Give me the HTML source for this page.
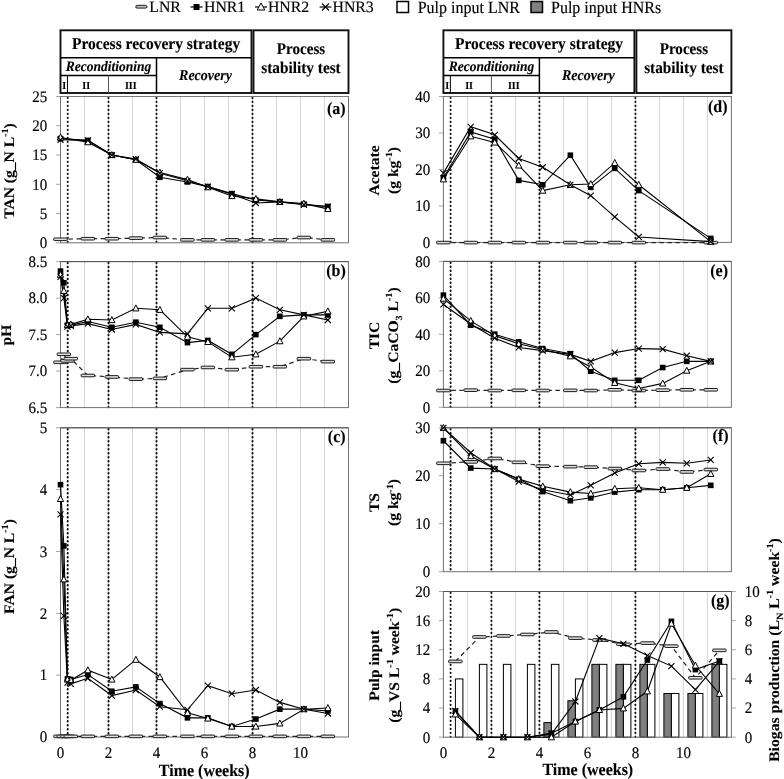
<!DOCTYPE html>
<html><head><meta charset="utf-8"><style>
html,body{margin:0;padding:0;background:#fff;width:784px;height:779px;overflow:hidden;}
svg{display:block;will-change:transform;text-rendering:geometricPrecision;}
</style></head><body>
<svg width="784" height="779" viewBox="0 0 784 779" font-family='"Liberation Serif", serif' fill="#000">
<style>text{stroke:#000;stroke-width:0.15px;}text[font-weight=bold]{stroke-width:0.12px;}</style>
<rect width="784" height="779" fill="#fff"/>
<g font-size="15.8">
<line x1="135.5" y1="7" x2="147.5" y2="7" stroke="#333" stroke-width="1.2"/>
<rect x="136" y="5.3" width="10.6" height="2.8" rx="1" fill="#bbb" stroke="#222" stroke-width="1"/>
<text x="149.3" y="12.2">LNR</text>
<line x1="190.5" y1="7" x2="202.5" y2="7" stroke="#000" stroke-width="1.2"/>
<rect x="193.5" y="4" width="6" height="6" fill="#000"/>
<text x="204" y="12.2">HNR1</text>
<line x1="255" y1="7" x2="267" y2="7" stroke="#000" stroke-width="1.2"/>
<path d="M261,3 L264.8,10 L257.2,10 Z" fill="#fff" stroke="#000" stroke-width="1"/>
<text x="267.9" y="12.2">HNR2</text>
<line x1="319.6" y1="7" x2="331.3" y2="7" stroke="#000" stroke-width="1.2"/>
<path d="M322,3.5 L329,10.5 M329,3.5 L322,10.5" stroke="#000" stroke-width="1.1"/>
<text x="332.5" y="12.2">HNR3</text>
</g>
<g font-size="16">
<rect x="397" y="1.5" width="11.5" height="11" fill="#fff" stroke="#000" stroke-width="1.5"/>
<text x="417.7" y="12.5" transform="translate(0 12.5) scale(1 1.07) translate(0 -12.5)">Pulp input LNR</text>
<rect x="531" y="1.5" width="11.5" height="11" fill="#808080" stroke="#000" stroke-width="1.5"/>
<text x="551" y="12.5" transform="translate(0 12.5) scale(1 1.07) translate(0 -12.5)">Pulp input HNRs</text>
</g>
<g fill="none" stroke="#000">
<rect x="60.5" y="30.3" width="191" height="62.7" stroke-width="1.9" stroke="#111"/>
<rect x="253.5" y="30.3" width="95" height="62.7" stroke-width="1.9" stroke="#111"/>
<line x1="60.5" y1="57.8" x2="251.5" y2="57.8" stroke-width="1.5"/>
<line x1="60.5" y1="75.5" x2="156.5" y2="75.5" stroke-width="1.3"/>
<line x1="156.5" y1="57.8" x2="156.5" y2="93" stroke-width="1.5"/>
<line x1="67.46" y1="75.5" x2="67.46" y2="93" stroke-width="1"/>
<line x1="108.5" y1="75.5" x2="108.5" y2="93" stroke-width="1" stroke="#555"/>
</g>
<text x="156.1" y="48.6" font-size="15.5" font-weight="bold" text-anchor="middle" transform="translate(0 48.6) scale(1 1.07) translate(0 -48.6)">Process recovery strategy</text>
<text x="108.5" y="70.7" font-size="13.5" font-weight="bold" font-style="italic" text-anchor="middle" transform="translate(0 70.7) scale(1 1.07) translate(0 -70.7)">Reconditioning</text>
<text x="205.5" y="79.8" font-size="14" font-weight="bold" font-style="italic" text-anchor="middle" transform="translate(0 79.8) scale(1 1.07) translate(0 -79.8)">Recovery</text>
<text x="64.28" y="89" font-size="10" font-weight="bold" text-anchor="middle" transform="translate(0 89) scale(1 1.07) translate(0 -89)">I</text>
<text x="86.18" y="89" font-size="10" font-weight="bold" text-anchor="middle" transform="translate(0 89) scale(1 1.07) translate(0 -89)">II</text>
<text x="130.82" y="89" font-size="10" font-weight="bold" text-anchor="middle" transform="translate(0 89) scale(1 1.07) translate(0 -89)">III</text>
<text x="301" y="54.3" font-size="15.1" font-weight="bold" text-anchor="middle" transform="translate(0 54.3) scale(1 1.07) translate(0 -54.3)">Process</text>
<text x="301" y="72.5" font-size="15.3" font-weight="bold" text-anchor="middle" transform="translate(0 72.5) scale(1 1.07) translate(0 -72.5)">stability test</text>
<g fill="none" stroke="#000">
<rect x="443.4" y="30.3" width="191" height="62.7" stroke-width="1.9" stroke="#111"/>
<rect x="636.4" y="30.3" width="95" height="62.7" stroke-width="1.9" stroke="#111"/>
<line x1="443.4" y1="57.8" x2="634.4" y2="57.8" stroke-width="1.5"/>
<line x1="443.4" y1="75.5" x2="539.4" y2="75.5" stroke-width="1.3"/>
<line x1="539.4" y1="57.8" x2="539.4" y2="93" stroke-width="1.5"/>
<line x1="450.36" y1="75.5" x2="450.36" y2="93" stroke-width="1"/>
<line x1="491.4" y1="75.5" x2="491.4" y2="93" stroke-width="1" stroke="#555"/>
</g>
<text x="539" y="48.6" font-size="15.5" font-weight="bold" text-anchor="middle" transform="translate(0 48.6) scale(1 1.07) translate(0 -48.6)">Process recovery strategy</text>
<text x="491.4" y="70.7" font-size="13.5" font-weight="bold" font-style="italic" text-anchor="middle" transform="translate(0 70.7) scale(1 1.07) translate(0 -70.7)">Reconditioning</text>
<text x="588.4" y="79.8" font-size="14" font-weight="bold" font-style="italic" text-anchor="middle" transform="translate(0 79.8) scale(1 1.07) translate(0 -79.8)">Recovery</text>
<text x="447.18" y="89" font-size="10" font-weight="bold" text-anchor="middle" transform="translate(0 89) scale(1 1.07) translate(0 -89)">I</text>
<text x="469.08" y="89" font-size="10" font-weight="bold" text-anchor="middle" transform="translate(0 89) scale(1 1.07) translate(0 -89)">II</text>
<text x="513.72" y="89" font-size="10" font-weight="bold" text-anchor="middle" transform="translate(0 89) scale(1 1.07) translate(0 -89)">III</text>
<text x="683.9" y="54.3" font-size="15.1" font-weight="bold" text-anchor="middle" transform="translate(0 54.3) scale(1 1.07) translate(0 -54.3)">Process</text>
<text x="683.9" y="72.5" font-size="15.3" font-weight="bold" text-anchor="middle" transform="translate(0 72.5) scale(1 1.07) translate(0 -72.5)">stability test</text>
<line x1="84.5" y1="96.5" x2="84.5" y2="242.8" stroke="#d4d4d4" stroke-width="1"/>
<line x1="108.5" y1="96.5" x2="108.5" y2="242.8" stroke="#d4d4d4" stroke-width="1"/>
<line x1="132.5" y1="96.5" x2="132.5" y2="242.8" stroke="#d4d4d4" stroke-width="1"/>
<line x1="156.5" y1="96.5" x2="156.5" y2="242.8" stroke="#d4d4d4" stroke-width="1"/>
<line x1="180.5" y1="96.5" x2="180.5" y2="242.8" stroke="#d4d4d4" stroke-width="1"/>
<line x1="204.5" y1="96.5" x2="204.5" y2="242.8" stroke="#d4d4d4" stroke-width="1"/>
<line x1="228.5" y1="96.5" x2="228.5" y2="242.8" stroke="#d4d4d4" stroke-width="1"/>
<line x1="252.5" y1="96.5" x2="252.5" y2="242.8" stroke="#d4d4d4" stroke-width="1"/>
<line x1="276.5" y1="96.5" x2="276.5" y2="242.8" stroke="#d4d4d4" stroke-width="1"/>
<line x1="300.5" y1="96.5" x2="300.5" y2="242.8" stroke="#d4d4d4" stroke-width="1"/>
<line x1="324.5" y1="96.5" x2="324.5" y2="242.8" stroke="#d4d4d4" stroke-width="1"/>
<line x1="56" y1="242.8" x2="60.5" y2="242.8" stroke="#a6a6a6" stroke-width="1"/>
<text x="47.3" y="248.1" font-size="15" text-anchor="end" transform="translate(0 248.1) scale(1 1.07) translate(0 -248.1)">0</text>
<line x1="56" y1="213.54" x2="60.5" y2="213.54" stroke="#a6a6a6" stroke-width="1"/>
<text x="47.3" y="218.84" font-size="15" text-anchor="end" transform="translate(0 218.84) scale(1 1.07) translate(0 -218.84)">5</text>
<line x1="56" y1="184.28" x2="60.5" y2="184.28" stroke="#a6a6a6" stroke-width="1"/>
<text x="47.3" y="189.58" font-size="15" text-anchor="end" transform="translate(0 189.58) scale(1 1.07) translate(0 -189.58)">10</text>
<line x1="56" y1="155.02" x2="60.5" y2="155.02" stroke="#a6a6a6" stroke-width="1"/>
<text x="47.3" y="160.32" font-size="15" text-anchor="end" transform="translate(0 160.32) scale(1 1.07) translate(0 -160.32)">15</text>
<line x1="56" y1="125.76" x2="60.5" y2="125.76" stroke="#a6a6a6" stroke-width="1"/>
<text x="47.3" y="131.06" font-size="15" text-anchor="end" transform="translate(0 131.06) scale(1 1.07) translate(0 -131.06)">20</text>
<line x1="56" y1="96.5" x2="60.5" y2="96.5" stroke="#a6a6a6" stroke-width="1"/>
<text x="47.3" y="101.8" font-size="15" text-anchor="end" transform="translate(0 101.8) scale(1 1.07) translate(0 -101.8)">25</text>
<line x1="67.7" y1="97.7" x2="67.7" y2="242.8" stroke="#111" stroke-width="2" stroke-linecap="round" stroke-dasharray="0.4 3.6"/>
<line x1="108.5" y1="97.7" x2="108.5" y2="242.8" stroke="#111" stroke-width="2" stroke-linecap="round" stroke-dasharray="0.4 3.6"/>
<line x1="156.5" y1="97.7" x2="156.5" y2="242.8" stroke="#111" stroke-width="2" stroke-linecap="round" stroke-dasharray="0.4 3.6"/>
<line x1="252.5" y1="97.7" x2="252.5" y2="242.8" stroke="#111" stroke-width="2" stroke-linecap="round" stroke-dasharray="0.4 3.6"/>
<rect x="60.5" y="96.5" width="288" height="146.3" fill="none" stroke="#707070" stroke-width="1"/>
<line x1="60.5" y1="96.5" x2="348.5" y2="96.5" stroke="#7a7a7a" stroke-width="1"/>
<polyline points="60.5,239.29 87.86,238.7 111.86,238.7 135.86,238.12 159.86,237.53 187.46,239.87 207.86,239.87 231.86,239.87 255.86,239.87 279.86,239.87 303.86,237.53 327.86,239.87" fill="none" stroke="#222" stroke-width="1.2" stroke-dasharray="4.5 3.5"/>
<rect x="53.8" y="237.99" width="13.4" height="2.6" rx="0.6" fill="#dedede" stroke="#1a1a1a" stroke-width="1"/>
<rect x="81.16" y="237.4" width="13.4" height="2.6" rx="0.6" fill="#dedede" stroke="#1a1a1a" stroke-width="1"/>
<rect x="105.16" y="237.4" width="13.4" height="2.6" rx="0.6" fill="#dedede" stroke="#1a1a1a" stroke-width="1"/>
<rect x="129.16" y="236.82" width="13.4" height="2.6" rx="0.6" fill="#dedede" stroke="#1a1a1a" stroke-width="1"/>
<rect x="153.16" y="236.23" width="13.4" height="2.6" rx="0.6" fill="#dedede" stroke="#1a1a1a" stroke-width="1"/>
<rect x="180.76" y="238.57" width="13.4" height="2.6" rx="0.6" fill="#dedede" stroke="#1a1a1a" stroke-width="1"/>
<rect x="201.16" y="238.57" width="13.4" height="2.6" rx="0.6" fill="#dedede" stroke="#1a1a1a" stroke-width="1"/>
<rect x="225.16" y="238.57" width="13.4" height="2.6" rx="0.6" fill="#dedede" stroke="#1a1a1a" stroke-width="1"/>
<rect x="249.16" y="238.57" width="13.4" height="2.6" rx="0.6" fill="#dedede" stroke="#1a1a1a" stroke-width="1"/>
<rect x="273.16" y="238.57" width="13.4" height="2.6" rx="0.6" fill="#dedede" stroke="#1a1a1a" stroke-width="1"/>
<rect x="297.16" y="236.23" width="13.4" height="2.6" rx="0.6" fill="#dedede" stroke="#1a1a1a" stroke-width="1"/>
<rect x="321.16" y="238.57" width="13.4" height="2.6" rx="0.6" fill="#dedede" stroke="#1a1a1a" stroke-width="1"/>
<polyline points="60.5,138.63 87.86,140.39 111.86,155.02 135.86,159.7 159.86,177.26 187.46,181.94 207.86,186.62 231.86,193.64 255.86,200.08 279.86,201.84 303.86,204.18 327.86,206.52" fill="none" stroke="#000" stroke-width="1.1"/>
<polyline points="60.5,137.46 87.86,142.15 111.86,155.02 135.86,159.7 159.86,172.58 187.46,179.6 207.86,187.21 231.86,195.98 255.86,198.91 279.86,201.84 303.86,203.59 327.86,208.86" fill="none" stroke="#000" stroke-width="1.1"/>
<polyline points="60.5,139.8 87.86,140.39 111.86,155.02 135.86,159.12 159.86,173.16 187.46,180.77 207.86,186.62 231.86,194.23 255.86,203.01 279.86,201.84 303.86,204.76 327.86,206.52" fill="none" stroke="#000" stroke-width="1.1"/>
<rect x="57.7" y="135.83" width="5.6" height="5.6" fill="#000"/>
<rect x="85.06" y="137.59" width="5.6" height="5.6" fill="#000"/>
<rect x="109.06" y="152.22" width="5.6" height="5.6" fill="#000"/>
<rect x="133.06" y="156.9" width="5.6" height="5.6" fill="#000"/>
<rect x="157.06" y="174.46" width="5.6" height="5.6" fill="#000"/>
<rect x="184.66" y="179.14" width="5.6" height="5.6" fill="#000"/>
<rect x="205.06" y="183.82" width="5.6" height="5.6" fill="#000"/>
<rect x="229.06" y="190.84" width="5.6" height="5.6" fill="#000"/>
<rect x="253.06" y="197.28" width="5.6" height="5.6" fill="#000"/>
<rect x="277.06" y="199.04" width="5.6" height="5.6" fill="#000"/>
<rect x="301.06" y="201.38" width="5.6" height="5.6" fill="#000"/>
<rect x="325.06" y="203.72" width="5.6" height="5.6" fill="#000"/>
<path d="M60.5,134.06 L63.6,140.06 L57.4,140.06 Z" fill="#fff" stroke="#000" stroke-width="1"/>
<path d="M87.86,138.75 L90.96,144.75 L84.76,144.75 Z" fill="#fff" stroke="#000" stroke-width="1"/>
<path d="M111.86,151.62 L114.96,157.62 L108.76,157.62 Z" fill="#fff" stroke="#000" stroke-width="1"/>
<path d="M135.86,156.3 L138.96,162.3 L132.76,162.3 Z" fill="#fff" stroke="#000" stroke-width="1"/>
<path d="M159.86,169.18 L162.96,175.18 L156.76,175.18 Z" fill="#fff" stroke="#000" stroke-width="1"/>
<path d="M187.46,176.2 L190.56,182.2 L184.36,182.2 Z" fill="#fff" stroke="#000" stroke-width="1"/>
<path d="M207.86,183.81 L210.96,189.81 L204.76,189.81 Z" fill="#fff" stroke="#000" stroke-width="1"/>
<path d="M231.86,192.58 L234.96,198.58 L228.76,198.58 Z" fill="#fff" stroke="#000" stroke-width="1"/>
<path d="M255.86,195.51 L258.96,201.51 L252.76,201.51 Z" fill="#fff" stroke="#000" stroke-width="1"/>
<path d="M279.86,198.44 L282.96,204.44 L276.76,204.44 Z" fill="#fff" stroke="#000" stroke-width="1"/>
<path d="M303.86,200.19 L306.96,206.19 L300.76,206.19 Z" fill="#fff" stroke="#000" stroke-width="1"/>
<path d="M327.86,205.46 L330.96,211.46 L324.76,211.46 Z" fill="#fff" stroke="#000" stroke-width="1"/>
<path d="M57.5,136.8 L63.5,142.8 M63.5,136.8 L57.5,142.8" stroke="#000" stroke-width="1.1" fill="none"/>
<path d="M84.86,137.39 L90.86,143.39 M90.86,137.39 L84.86,143.39" stroke="#000" stroke-width="1.1" fill="none"/>
<path d="M108.86,152.02 L114.86,158.02 M114.86,152.02 L108.86,158.02" stroke="#000" stroke-width="1.1" fill="none"/>
<path d="M132.86,156.12 L138.86,162.12 M138.86,156.12 L132.86,162.12" stroke="#000" stroke-width="1.1" fill="none"/>
<path d="M156.86,170.16 L162.86,176.16 M162.86,170.16 L156.86,176.16" stroke="#000" stroke-width="1.1" fill="none"/>
<path d="M184.46,177.77 L190.46,183.77 M190.46,177.77 L184.46,183.77" stroke="#000" stroke-width="1.1" fill="none"/>
<path d="M204.86,183.62 L210.86,189.62 M210.86,183.62 L204.86,189.62" stroke="#000" stroke-width="1.1" fill="none"/>
<path d="M228.86,191.23 L234.86,197.23 M234.86,191.23 L228.86,197.23" stroke="#000" stroke-width="1.1" fill="none"/>
<path d="M252.86,200.01 L258.86,206.01 M258.86,200.01 L252.86,206.01" stroke="#000" stroke-width="1.1" fill="none"/>
<path d="M276.86,198.84 L282.86,204.84 M282.86,198.84 L276.86,204.84" stroke="#000" stroke-width="1.1" fill="none"/>
<path d="M300.86,201.76 L306.86,207.76 M306.86,201.76 L300.86,207.76" stroke="#000" stroke-width="1.1" fill="none"/>
<path d="M324.86,203.52 L330.86,209.52 M330.86,203.52 L324.86,209.52" stroke="#000" stroke-width="1.1" fill="none"/>
<text x="345.6" y="113.9" font-size="16" font-weight="bold" text-anchor="end" transform="translate(0 113.9) scale(1 1.07) translate(0 -113.9)">(a)</text>
<g transform="translate(14,171) rotate(-90) scale(1 0.93)">
<text x="0" y="0" font-size="15.6" font-weight="bold" text-anchor="middle">TAN (g_N L<tspan font-size="65%" baseline-shift="6">-1</tspan>)</text>
</g>
<line x1="84.5" y1="261.6" x2="84.5" y2="407.6" stroke="#d4d4d4" stroke-width="1"/>
<line x1="108.5" y1="261.6" x2="108.5" y2="407.6" stroke="#d4d4d4" stroke-width="1"/>
<line x1="132.5" y1="261.6" x2="132.5" y2="407.6" stroke="#d4d4d4" stroke-width="1"/>
<line x1="156.5" y1="261.6" x2="156.5" y2="407.6" stroke="#d4d4d4" stroke-width="1"/>
<line x1="180.5" y1="261.6" x2="180.5" y2="407.6" stroke="#d4d4d4" stroke-width="1"/>
<line x1="204.5" y1="261.6" x2="204.5" y2="407.6" stroke="#d4d4d4" stroke-width="1"/>
<line x1="228.5" y1="261.6" x2="228.5" y2="407.6" stroke="#d4d4d4" stroke-width="1"/>
<line x1="252.5" y1="261.6" x2="252.5" y2="407.6" stroke="#d4d4d4" stroke-width="1"/>
<line x1="276.5" y1="261.6" x2="276.5" y2="407.6" stroke="#d4d4d4" stroke-width="1"/>
<line x1="300.5" y1="261.6" x2="300.5" y2="407.6" stroke="#d4d4d4" stroke-width="1"/>
<line x1="324.5" y1="261.6" x2="324.5" y2="407.6" stroke="#d4d4d4" stroke-width="1"/>
<line x1="56" y1="407.6" x2="60.5" y2="407.6" stroke="#a6a6a6" stroke-width="1"/>
<text x="47.3" y="412.9" font-size="15" text-anchor="end" transform="translate(0 412.9) scale(1 1.07) translate(0 -412.9)">6.5</text>
<line x1="56" y1="371.1" x2="60.5" y2="371.1" stroke="#a6a6a6" stroke-width="1"/>
<text x="47.3" y="376.4" font-size="15" text-anchor="end" transform="translate(0 376.4) scale(1 1.07) translate(0 -376.4)">7.0</text>
<line x1="56" y1="334.6" x2="60.5" y2="334.6" stroke="#a6a6a6" stroke-width="1"/>
<text x="47.3" y="339.9" font-size="15" text-anchor="end" transform="translate(0 339.9) scale(1 1.07) translate(0 -339.9)">7.5</text>
<line x1="56" y1="298.1" x2="60.5" y2="298.1" stroke="#a6a6a6" stroke-width="1"/>
<text x="47.3" y="303.4" font-size="15" text-anchor="end" transform="translate(0 303.4) scale(1 1.07) translate(0 -303.4)">8.0</text>
<line x1="56" y1="261.6" x2="60.5" y2="261.6" stroke="#a6a6a6" stroke-width="1"/>
<text x="47.3" y="266.9" font-size="15" text-anchor="end" transform="translate(0 266.9) scale(1 1.07) translate(0 -266.9)">8.5</text>
<line x1="67.7" y1="262.8" x2="67.7" y2="407.6" stroke="#111" stroke-width="2" stroke-linecap="round" stroke-dasharray="0.4 3.6"/>
<line x1="108.5" y1="262.8" x2="108.5" y2="407.6" stroke="#111" stroke-width="2" stroke-linecap="round" stroke-dasharray="0.4 3.6"/>
<line x1="156.5" y1="262.8" x2="156.5" y2="407.6" stroke="#111" stroke-width="2" stroke-linecap="round" stroke-dasharray="0.4 3.6"/>
<line x1="252.5" y1="262.8" x2="252.5" y2="407.6" stroke="#111" stroke-width="2" stroke-linecap="round" stroke-dasharray="0.4 3.6"/>
<rect x="60.5" y="261.6" width="288" height="146" fill="none" stroke="#707070" stroke-width="1"/>
<line x1="60.5" y1="261.6" x2="348.5" y2="261.6" stroke="#555" stroke-width="1"/>
<polyline points="60.5,362.34 63.86,354.31 67.46,360.88 70.82,358.69 87.86,375.48 111.86,376.94 135.86,379.13 159.86,378.4 187.46,369.64 207.86,367.45 231.86,369.64 255.86,366.72 279.86,366.72 303.86,358.69 327.86,361.61" fill="none" stroke="#222" stroke-width="1.2" stroke-dasharray="4.5 3.5"/>
<rect x="53.8" y="361.04" width="13.4" height="2.6" rx="0.6" fill="#dedede" stroke="#1a1a1a" stroke-width="1"/>
<rect x="57.16" y="353.01" width="13.4" height="2.6" rx="0.6" fill="#dedede" stroke="#1a1a1a" stroke-width="1"/>
<rect x="60.76" y="359.58" width="13.4" height="2.6" rx="0.6" fill="#dedede" stroke="#1a1a1a" stroke-width="1"/>
<rect x="64.12" y="357.39" width="13.4" height="2.6" rx="0.6" fill="#dedede" stroke="#1a1a1a" stroke-width="1"/>
<rect x="81.16" y="374.18" width="13.4" height="2.6" rx="0.6" fill="#dedede" stroke="#1a1a1a" stroke-width="1"/>
<rect x="105.16" y="375.64" width="13.4" height="2.6" rx="0.6" fill="#dedede" stroke="#1a1a1a" stroke-width="1"/>
<rect x="129.16" y="377.83" width="13.4" height="2.6" rx="0.6" fill="#dedede" stroke="#1a1a1a" stroke-width="1"/>
<rect x="153.16" y="377.1" width="13.4" height="2.6" rx="0.6" fill="#dedede" stroke="#1a1a1a" stroke-width="1"/>
<rect x="180.76" y="368.34" width="13.4" height="2.6" rx="0.6" fill="#dedede" stroke="#1a1a1a" stroke-width="1"/>
<rect x="201.16" y="366.15" width="13.4" height="2.6" rx="0.6" fill="#dedede" stroke="#1a1a1a" stroke-width="1"/>
<rect x="225.16" y="368.34" width="13.4" height="2.6" rx="0.6" fill="#dedede" stroke="#1a1a1a" stroke-width="1"/>
<rect x="249.16" y="365.42" width="13.4" height="2.6" rx="0.6" fill="#dedede" stroke="#1a1a1a" stroke-width="1"/>
<rect x="273.16" y="365.42" width="13.4" height="2.6" rx="0.6" fill="#dedede" stroke="#1a1a1a" stroke-width="1"/>
<rect x="297.16" y="357.39" width="13.4" height="2.6" rx="0.6" fill="#dedede" stroke="#1a1a1a" stroke-width="1"/>
<rect x="321.16" y="360.31" width="13.4" height="2.6" rx="0.6" fill="#dedede" stroke="#1a1a1a" stroke-width="1"/>
<polyline points="60.5,271.09 63.86,282.77 67.46,325.11 70.82,325.11 87.86,321.46 111.86,327.3 135.86,322.19 159.86,327.3 187.46,342.63 207.86,340.44 231.86,354.31 255.86,334.6 279.86,316.35 303.86,314.89 327.86,314.89" fill="none" stroke="#000" stroke-width="1.1"/>
<polyline points="60.5,274.74 63.86,290.8 67.46,325.11 70.82,324.38 87.86,319.27 111.86,320 135.86,308.32 159.86,309.78 187.46,336.79 207.86,341.9 231.86,357.23 255.86,354.31 279.86,341.17 303.86,316.35 327.86,311.24" fill="none" stroke="#000" stroke-width="1.1"/>
<polyline points="60.5,276.93 63.86,298.1 67.46,326.57 70.82,325.84 87.86,323.65 111.86,329.49 135.86,324.38 159.86,332.41 187.46,333.87 207.86,308.32 231.86,308.32 255.86,298.1 279.86,309.78 303.86,314.89 327.86,320" fill="none" stroke="#000" stroke-width="1.1"/>
<rect x="57.7" y="268.29" width="5.6" height="5.6" fill="#000"/>
<rect x="61.06" y="279.97" width="5.6" height="5.6" fill="#000"/>
<rect x="64.66" y="322.31" width="5.6" height="5.6" fill="#000"/>
<rect x="68.02" y="322.31" width="5.6" height="5.6" fill="#000"/>
<rect x="85.06" y="318.66" width="5.6" height="5.6" fill="#000"/>
<rect x="109.06" y="324.5" width="5.6" height="5.6" fill="#000"/>
<rect x="133.06" y="319.39" width="5.6" height="5.6" fill="#000"/>
<rect x="157.06" y="324.5" width="5.6" height="5.6" fill="#000"/>
<rect x="184.66" y="339.83" width="5.6" height="5.6" fill="#000"/>
<rect x="205.06" y="337.64" width="5.6" height="5.6" fill="#000"/>
<rect x="229.06" y="351.51" width="5.6" height="5.6" fill="#000"/>
<rect x="253.06" y="331.8" width="5.6" height="5.6" fill="#000"/>
<rect x="277.06" y="313.55" width="5.6" height="5.6" fill="#000"/>
<rect x="301.06" y="312.09" width="5.6" height="5.6" fill="#000"/>
<rect x="325.06" y="312.09" width="5.6" height="5.6" fill="#000"/>
<path d="M60.5,271.34 L63.6,277.34 L57.4,277.34 Z" fill="#fff" stroke="#000" stroke-width="1"/>
<path d="M63.86,287.4 L66.96,293.4 L60.76,293.4 Z" fill="#fff" stroke="#000" stroke-width="1"/>
<path d="M67.46,321.71 L70.56,327.71 L64.36,327.71 Z" fill="#fff" stroke="#000" stroke-width="1"/>
<path d="M70.82,320.98 L73.92,326.98 L67.72,326.98 Z" fill="#fff" stroke="#000" stroke-width="1"/>
<path d="M87.86,315.87 L90.96,321.87 L84.76,321.87 Z" fill="#fff" stroke="#000" stroke-width="1"/>
<path d="M111.86,316.6 L114.96,322.6 L108.76,322.6 Z" fill="#fff" stroke="#000" stroke-width="1"/>
<path d="M135.86,304.92 L138.96,310.92 L132.76,310.92 Z" fill="#fff" stroke="#000" stroke-width="1"/>
<path d="M159.86,306.38 L162.96,312.38 L156.76,312.38 Z" fill="#fff" stroke="#000" stroke-width="1"/>
<path d="M187.46,333.39 L190.56,339.39 L184.36,339.39 Z" fill="#fff" stroke="#000" stroke-width="1"/>
<path d="M207.86,338.5 L210.96,344.5 L204.76,344.5 Z" fill="#fff" stroke="#000" stroke-width="1"/>
<path d="M231.86,353.83 L234.96,359.83 L228.76,359.83 Z" fill="#fff" stroke="#000" stroke-width="1"/>
<path d="M255.86,350.91 L258.96,356.91 L252.76,356.91 Z" fill="#fff" stroke="#000" stroke-width="1"/>
<path d="M279.86,337.77 L282.96,343.77 L276.76,343.77 Z" fill="#fff" stroke="#000" stroke-width="1"/>
<path d="M303.86,312.95 L306.96,318.95 L300.76,318.95 Z" fill="#fff" stroke="#000" stroke-width="1"/>
<path d="M327.86,307.84 L330.96,313.84 L324.76,313.84 Z" fill="#fff" stroke="#000" stroke-width="1"/>
<path d="M57.5,273.93 L63.5,279.93 M63.5,273.93 L57.5,279.93" stroke="#000" stroke-width="1.1" fill="none"/>
<path d="M60.86,295.1 L66.86,301.1 M66.86,295.1 L60.86,301.1" stroke="#000" stroke-width="1.1" fill="none"/>
<path d="M64.46,323.57 L70.46,329.57 M70.46,323.57 L64.46,329.57" stroke="#000" stroke-width="1.1" fill="none"/>
<path d="M67.82,322.84 L73.82,328.84 M73.82,322.84 L67.82,328.84" stroke="#000" stroke-width="1.1" fill="none"/>
<path d="M84.86,320.65 L90.86,326.65 M90.86,320.65 L84.86,326.65" stroke="#000" stroke-width="1.1" fill="none"/>
<path d="M108.86,326.49 L114.86,332.49 M114.86,326.49 L108.86,332.49" stroke="#000" stroke-width="1.1" fill="none"/>
<path d="M132.86,321.38 L138.86,327.38 M138.86,321.38 L132.86,327.38" stroke="#000" stroke-width="1.1" fill="none"/>
<path d="M156.86,329.41 L162.86,335.41 M162.86,329.41 L156.86,335.41" stroke="#000" stroke-width="1.1" fill="none"/>
<path d="M184.46,330.87 L190.46,336.87 M190.46,330.87 L184.46,336.87" stroke="#000" stroke-width="1.1" fill="none"/>
<path d="M204.86,305.32 L210.86,311.32 M210.86,305.32 L204.86,311.32" stroke="#000" stroke-width="1.1" fill="none"/>
<path d="M228.86,305.32 L234.86,311.32 M234.86,305.32 L228.86,311.32" stroke="#000" stroke-width="1.1" fill="none"/>
<path d="M252.86,295.1 L258.86,301.1 M258.86,295.1 L252.86,301.1" stroke="#000" stroke-width="1.1" fill="none"/>
<path d="M276.86,306.78 L282.86,312.78 M282.86,306.78 L276.86,312.78" stroke="#000" stroke-width="1.1" fill="none"/>
<path d="M300.86,311.89 L306.86,317.89 M306.86,311.89 L300.86,317.89" stroke="#000" stroke-width="1.1" fill="none"/>
<path d="M324.86,317 L330.86,323 M330.86,317 L324.86,323" stroke="#000" stroke-width="1.1" fill="none"/>
<text x="345.8" y="275.6" font-size="16" font-weight="bold" text-anchor="end" transform="translate(0 275.6) scale(1 1.07) translate(0 -275.6)">(b)</text>
<g transform="translate(10.6,335) rotate(-90) scale(1 0.93)">
<text x="0" y="0" font-size="15.6" font-weight="bold" text-anchor="middle">pH</text>
</g>
<line x1="84.5" y1="427.8" x2="84.5" y2="737" stroke="#d4d4d4" stroke-width="1"/>
<line x1="108.5" y1="427.8" x2="108.5" y2="737" stroke="#d4d4d4" stroke-width="1"/>
<line x1="132.5" y1="427.8" x2="132.5" y2="737" stroke="#d4d4d4" stroke-width="1"/>
<line x1="156.5" y1="427.8" x2="156.5" y2="737" stroke="#d4d4d4" stroke-width="1"/>
<line x1="180.5" y1="427.8" x2="180.5" y2="737" stroke="#d4d4d4" stroke-width="1"/>
<line x1="204.5" y1="427.8" x2="204.5" y2="737" stroke="#d4d4d4" stroke-width="1"/>
<line x1="228.5" y1="427.8" x2="228.5" y2="737" stroke="#d4d4d4" stroke-width="1"/>
<line x1="252.5" y1="427.8" x2="252.5" y2="737" stroke="#d4d4d4" stroke-width="1"/>
<line x1="276.5" y1="427.8" x2="276.5" y2="737" stroke="#d4d4d4" stroke-width="1"/>
<line x1="300.5" y1="427.8" x2="300.5" y2="737" stroke="#d4d4d4" stroke-width="1"/>
<line x1="324.5" y1="427.8" x2="324.5" y2="737" stroke="#d4d4d4" stroke-width="1"/>
<line x1="56" y1="737" x2="60.5" y2="737" stroke="#a6a6a6" stroke-width="1"/>
<text x="47.3" y="742.3" font-size="15" text-anchor="end" transform="translate(0 742.3) scale(1 1.07) translate(0 -742.3)">0</text>
<line x1="56" y1="675.16" x2="60.5" y2="675.16" stroke="#a6a6a6" stroke-width="1"/>
<text x="47.3" y="680.46" font-size="15" text-anchor="end" transform="translate(0 680.46) scale(1 1.07) translate(0 -680.46)">1</text>
<line x1="56" y1="613.32" x2="60.5" y2="613.32" stroke="#a6a6a6" stroke-width="1"/>
<text x="47.3" y="618.62" font-size="15" text-anchor="end" transform="translate(0 618.62) scale(1 1.07) translate(0 -618.62)">2</text>
<line x1="56" y1="551.48" x2="60.5" y2="551.48" stroke="#a6a6a6" stroke-width="1"/>
<text x="47.3" y="556.78" font-size="15" text-anchor="end" transform="translate(0 556.78) scale(1 1.07) translate(0 -556.78)">3</text>
<line x1="56" y1="489.64" x2="60.5" y2="489.64" stroke="#a6a6a6" stroke-width="1"/>
<text x="47.3" y="494.94" font-size="15" text-anchor="end" transform="translate(0 494.94) scale(1 1.07) translate(0 -494.94)">4</text>
<line x1="56" y1="427.8" x2="60.5" y2="427.8" stroke="#a6a6a6" stroke-width="1"/>
<text x="47.3" y="433.1" font-size="15" text-anchor="end" transform="translate(0 433.1) scale(1 1.07) translate(0 -433.1)">5</text>
<line x1="67.7" y1="429" x2="67.7" y2="737" stroke="#111" stroke-width="2" stroke-linecap="round" stroke-dasharray="0.4 3.6"/>
<line x1="108.5" y1="429" x2="108.5" y2="737" stroke="#111" stroke-width="2" stroke-linecap="round" stroke-dasharray="0.4 3.6"/>
<line x1="156.5" y1="429" x2="156.5" y2="737" stroke="#111" stroke-width="2" stroke-linecap="round" stroke-dasharray="0.4 3.6"/>
<line x1="252.5" y1="429" x2="252.5" y2="737" stroke="#111" stroke-width="2" stroke-linecap="round" stroke-dasharray="0.4 3.6"/>
<text x="60.5" y="758" font-size="15" text-anchor="middle" transform="translate(0 758) scale(1 1.07) translate(0 -758)">0</text>
<text x="108.5" y="758" font-size="15" text-anchor="middle" transform="translate(0 758) scale(1 1.07) translate(0 -758)">2</text>
<text x="156.5" y="758" font-size="15" text-anchor="middle" transform="translate(0 758) scale(1 1.07) translate(0 -758)">4</text>
<text x="204.5" y="758" font-size="15" text-anchor="middle" transform="translate(0 758) scale(1 1.07) translate(0 -758)">6</text>
<text x="252.5" y="758" font-size="15" text-anchor="middle" transform="translate(0 758) scale(1 1.07) translate(0 -758)">8</text>
<text x="300.5" y="758" font-size="15" text-anchor="middle" transform="translate(0 758) scale(1 1.07) translate(0 -758)">10</text>
<rect x="60.5" y="427.8" width="288" height="309.2" fill="none" stroke="#707070" stroke-width="1"/>
<line x1="60.5" y1="427.8" x2="348.5" y2="427.8" stroke="#555" stroke-width="1"/>
<polyline points="60.5,736.38 63.86,736.38 67.46,736.38 70.82,736.38 87.86,736.38 111.86,736.38 135.86,736.38 159.86,736.38 187.46,736.38 207.86,736.38 231.86,736.38 255.86,736.38 279.86,736.38 303.86,736.38 327.86,736.38" fill="none" stroke="#222" stroke-width="1.2" stroke-dasharray="4.5 3.5"/>
<rect x="53.8" y="735.08" width="13.4" height="2.6" rx="0.6" fill="#dedede" stroke="#1a1a1a" stroke-width="1"/>
<rect x="57.16" y="735.08" width="13.4" height="2.6" rx="0.6" fill="#dedede" stroke="#1a1a1a" stroke-width="1"/>
<rect x="60.76" y="735.08" width="13.4" height="2.6" rx="0.6" fill="#dedede" stroke="#1a1a1a" stroke-width="1"/>
<rect x="64.12" y="735.08" width="13.4" height="2.6" rx="0.6" fill="#dedede" stroke="#1a1a1a" stroke-width="1"/>
<rect x="81.16" y="735.08" width="13.4" height="2.6" rx="0.6" fill="#dedede" stroke="#1a1a1a" stroke-width="1"/>
<rect x="105.16" y="735.08" width="13.4" height="2.6" rx="0.6" fill="#dedede" stroke="#1a1a1a" stroke-width="1"/>
<rect x="129.16" y="735.08" width="13.4" height="2.6" rx="0.6" fill="#dedede" stroke="#1a1a1a" stroke-width="1"/>
<rect x="153.16" y="735.08" width="13.4" height="2.6" rx="0.6" fill="#dedede" stroke="#1a1a1a" stroke-width="1"/>
<rect x="180.76" y="735.08" width="13.4" height="2.6" rx="0.6" fill="#dedede" stroke="#1a1a1a" stroke-width="1"/>
<rect x="201.16" y="735.08" width="13.4" height="2.6" rx="0.6" fill="#dedede" stroke="#1a1a1a" stroke-width="1"/>
<rect x="225.16" y="735.08" width="13.4" height="2.6" rx="0.6" fill="#dedede" stroke="#1a1a1a" stroke-width="1"/>
<rect x="249.16" y="735.08" width="13.4" height="2.6" rx="0.6" fill="#dedede" stroke="#1a1a1a" stroke-width="1"/>
<rect x="273.16" y="735.08" width="13.4" height="2.6" rx="0.6" fill="#dedede" stroke="#1a1a1a" stroke-width="1"/>
<rect x="297.16" y="735.08" width="13.4" height="2.6" rx="0.6" fill="#dedede" stroke="#1a1a1a" stroke-width="1"/>
<rect x="321.16" y="735.08" width="13.4" height="2.6" rx="0.6" fill="#dedede" stroke="#1a1a1a" stroke-width="1"/>
<polyline points="60.5,484.69 63.86,545.91 67.46,678.87 70.82,679.49 87.86,674.54 111.86,691.24 135.86,686.91 159.86,703.61 187.46,717.83 207.86,717.83 231.86,726.49 255.86,719.07 279.86,709.17 303.86,709.17 327.86,711.03" fill="none" stroke="#000" stroke-width="1.1"/>
<polyline points="60.5,498.92 63.86,579.31 67.46,679.49 70.82,680.11 87.86,670.21 111.86,679.49 135.86,659.7 159.86,677.02 187.46,712.88 207.86,718.45 231.86,726.49 255.86,726.49 279.86,723.4 303.86,709.17 327.86,707.94" fill="none" stroke="#000" stroke-width="1.1"/>
<polyline points="60.5,514.38 63.86,615.79 67.46,682.58 70.82,683.82 87.86,678.25 111.86,695.57 135.86,690 159.86,706.7 187.46,709.79 207.86,685.67 231.86,693.71 255.86,690 279.86,702.37 303.86,709.17 327.86,713.5" fill="none" stroke="#000" stroke-width="1.1"/>
<rect x="57.7" y="481.89" width="5.6" height="5.6" fill="#000"/>
<rect x="61.06" y="543.11" width="5.6" height="5.6" fill="#000"/>
<rect x="64.66" y="676.07" width="5.6" height="5.6" fill="#000"/>
<rect x="68.02" y="676.69" width="5.6" height="5.6" fill="#000"/>
<rect x="85.06" y="671.74" width="5.6" height="5.6" fill="#000"/>
<rect x="109.06" y="688.44" width="5.6" height="5.6" fill="#000"/>
<rect x="133.06" y="684.11" width="5.6" height="5.6" fill="#000"/>
<rect x="157.06" y="700.81" width="5.6" height="5.6" fill="#000"/>
<rect x="184.66" y="715.03" width="5.6" height="5.6" fill="#000"/>
<rect x="205.06" y="715.03" width="5.6" height="5.6" fill="#000"/>
<rect x="229.06" y="723.69" width="5.6" height="5.6" fill="#000"/>
<rect x="253.06" y="716.27" width="5.6" height="5.6" fill="#000"/>
<rect x="277.06" y="706.37" width="5.6" height="5.6" fill="#000"/>
<rect x="301.06" y="706.37" width="5.6" height="5.6" fill="#000"/>
<rect x="325.06" y="708.23" width="5.6" height="5.6" fill="#000"/>
<path d="M60.5,495.52 L63.6,501.52 L57.4,501.52 Z" fill="#fff" stroke="#000" stroke-width="1"/>
<path d="M63.86,575.91 L66.96,581.91 L60.76,581.91 Z" fill="#fff" stroke="#000" stroke-width="1"/>
<path d="M67.46,676.09 L70.56,682.09 L64.36,682.09 Z" fill="#fff" stroke="#000" stroke-width="1"/>
<path d="M70.82,676.71 L73.92,682.71 L67.72,682.71 Z" fill="#fff" stroke="#000" stroke-width="1"/>
<path d="M87.86,666.81 L90.96,672.81 L84.76,672.81 Z" fill="#fff" stroke="#000" stroke-width="1"/>
<path d="M111.86,676.09 L114.96,682.09 L108.76,682.09 Z" fill="#fff" stroke="#000" stroke-width="1"/>
<path d="M135.86,656.3 L138.96,662.3 L132.76,662.3 Z" fill="#fff" stroke="#000" stroke-width="1"/>
<path d="M159.86,673.62 L162.96,679.62 L156.76,679.62 Z" fill="#fff" stroke="#000" stroke-width="1"/>
<path d="M187.46,709.48 L190.56,715.48 L184.36,715.48 Z" fill="#fff" stroke="#000" stroke-width="1"/>
<path d="M207.86,715.05 L210.96,721.05 L204.76,721.05 Z" fill="#fff" stroke="#000" stroke-width="1"/>
<path d="M231.86,723.09 L234.96,729.09 L228.76,729.09 Z" fill="#fff" stroke="#000" stroke-width="1"/>
<path d="M255.86,723.09 L258.96,729.09 L252.76,729.09 Z" fill="#fff" stroke="#000" stroke-width="1"/>
<path d="M279.86,720 L282.96,726 L276.76,726 Z" fill="#fff" stroke="#000" stroke-width="1"/>
<path d="M303.86,705.77 L306.96,711.77 L300.76,711.77 Z" fill="#fff" stroke="#000" stroke-width="1"/>
<path d="M327.86,704.54 L330.96,710.54 L324.76,710.54 Z" fill="#fff" stroke="#000" stroke-width="1"/>
<path d="M57.5,511.38 L63.5,517.38 M63.5,511.38 L57.5,517.38" stroke="#000" stroke-width="1.1" fill="none"/>
<path d="M60.86,612.79 L66.86,618.79 M66.86,612.79 L60.86,618.79" stroke="#000" stroke-width="1.1" fill="none"/>
<path d="M64.46,679.58 L70.46,685.58 M70.46,679.58 L64.46,685.58" stroke="#000" stroke-width="1.1" fill="none"/>
<path d="M67.82,680.82 L73.82,686.82 M73.82,680.82 L67.82,686.82" stroke="#000" stroke-width="1.1" fill="none"/>
<path d="M84.86,675.25 L90.86,681.25 M90.86,675.25 L84.86,681.25" stroke="#000" stroke-width="1.1" fill="none"/>
<path d="M108.86,692.57 L114.86,698.57 M114.86,692.57 L108.86,698.57" stroke="#000" stroke-width="1.1" fill="none"/>
<path d="M132.86,687 L138.86,693 M138.86,687 L132.86,693" stroke="#000" stroke-width="1.1" fill="none"/>
<path d="M156.86,703.7 L162.86,709.7 M162.86,703.7 L156.86,709.7" stroke="#000" stroke-width="1.1" fill="none"/>
<path d="M184.46,706.79 L190.46,712.79 M190.46,706.79 L184.46,712.79" stroke="#000" stroke-width="1.1" fill="none"/>
<path d="M204.86,682.67 L210.86,688.67 M210.86,682.67 L204.86,688.67" stroke="#000" stroke-width="1.1" fill="none"/>
<path d="M228.86,690.71 L234.86,696.71 M234.86,690.71 L228.86,696.71" stroke="#000" stroke-width="1.1" fill="none"/>
<path d="M252.86,687 L258.86,693 M258.86,687 L252.86,693" stroke="#000" stroke-width="1.1" fill="none"/>
<path d="M276.86,699.37 L282.86,705.37 M282.86,699.37 L276.86,705.37" stroke="#000" stroke-width="1.1" fill="none"/>
<path d="M300.86,706.17 L306.86,712.17 M306.86,706.17 L300.86,712.17" stroke="#000" stroke-width="1.1" fill="none"/>
<path d="M324.86,710.5 L330.86,716.5 M330.86,710.5 L324.86,716.5" stroke="#000" stroke-width="1.1" fill="none"/>
<text x="345.6" y="441.8" font-size="16" font-weight="bold" text-anchor="end" transform="translate(0 441.8) scale(1 1.07) translate(0 -441.8)">(c)</text>
<g transform="translate(14,566.5) rotate(-90) scale(1 0.93)">
<text x="0" y="0" font-size="15.6" font-weight="bold" text-anchor="middle">FAN (g_N L<tspan font-size="65%" baseline-shift="6">-1</tspan>)</text>
</g>
<text x="204.2" y="775.5" font-size="16" font-weight="bold" text-anchor="middle" transform="translate(0 775.5) scale(1 1.07) translate(0 -775.5)">Time (weeks)</text>
<line x1="467.4" y1="96.5" x2="467.4" y2="242.4" stroke="#d4d4d4" stroke-width="1"/>
<line x1="491.4" y1="96.5" x2="491.4" y2="242.4" stroke="#d4d4d4" stroke-width="1"/>
<line x1="515.4" y1="96.5" x2="515.4" y2="242.4" stroke="#d4d4d4" stroke-width="1"/>
<line x1="539.4" y1="96.5" x2="539.4" y2="242.4" stroke="#d4d4d4" stroke-width="1"/>
<line x1="563.4" y1="96.5" x2="563.4" y2="242.4" stroke="#d4d4d4" stroke-width="1"/>
<line x1="587.4" y1="96.5" x2="587.4" y2="242.4" stroke="#d4d4d4" stroke-width="1"/>
<line x1="611.4" y1="96.5" x2="611.4" y2="242.4" stroke="#d4d4d4" stroke-width="1"/>
<line x1="635.4" y1="96.5" x2="635.4" y2="242.4" stroke="#d4d4d4" stroke-width="1"/>
<line x1="659.4" y1="96.5" x2="659.4" y2="242.4" stroke="#d4d4d4" stroke-width="1"/>
<line x1="683.4" y1="96.5" x2="683.4" y2="242.4" stroke="#d4d4d4" stroke-width="1"/>
<line x1="707.4" y1="96.5" x2="707.4" y2="242.4" stroke="#d4d4d4" stroke-width="1"/>
<line x1="438.9" y1="242.4" x2="443.4" y2="242.4" stroke="#a6a6a6" stroke-width="1"/>
<text x="430.2" y="247.7" font-size="15" text-anchor="end" transform="translate(0 247.7) scale(1 1.07) translate(0 -247.7)">0</text>
<line x1="438.9" y1="205.93" x2="443.4" y2="205.93" stroke="#a6a6a6" stroke-width="1"/>
<text x="430.2" y="211.23" font-size="15" text-anchor="end" transform="translate(0 211.23) scale(1 1.07) translate(0 -211.23)">10</text>
<line x1="438.9" y1="169.45" x2="443.4" y2="169.45" stroke="#a6a6a6" stroke-width="1"/>
<text x="430.2" y="174.75" font-size="15" text-anchor="end" transform="translate(0 174.75) scale(1 1.07) translate(0 -174.75)">20</text>
<line x1="438.9" y1="132.97" x2="443.4" y2="132.97" stroke="#a6a6a6" stroke-width="1"/>
<text x="430.2" y="138.28" font-size="15" text-anchor="end" transform="translate(0 138.28) scale(1 1.07) translate(0 -138.28)">30</text>
<line x1="438.9" y1="96.5" x2="443.4" y2="96.5" stroke="#a6a6a6" stroke-width="1"/>
<text x="430.2" y="101.8" font-size="15" text-anchor="end" transform="translate(0 101.8) scale(1 1.07) translate(0 -101.8)">40</text>
<line x1="450.6" y1="97.7" x2="450.6" y2="242.4" stroke="#111" stroke-width="2" stroke-linecap="round" stroke-dasharray="0.4 3.6"/>
<line x1="491.4" y1="97.7" x2="491.4" y2="242.4" stroke="#111" stroke-width="2" stroke-linecap="round" stroke-dasharray="0.4 3.6"/>
<line x1="539.4" y1="97.7" x2="539.4" y2="242.4" stroke="#111" stroke-width="2" stroke-linecap="round" stroke-dasharray="0.4 3.6"/>
<line x1="635.4" y1="97.7" x2="635.4" y2="242.4" stroke="#111" stroke-width="2" stroke-linecap="round" stroke-dasharray="0.4 3.6"/>
<rect x="443.4" y="96.5" width="288" height="145.9" fill="none" stroke="#707070" stroke-width="1"/>
<line x1="443.4" y1="96.5" x2="731.4" y2="96.5" stroke="#7a7a7a" stroke-width="1"/>
<polyline points="443.4,242.58 470.76,242.58 494.76,242.58 518.76,242.58 542.76,242.58 570.36,242.58 590.76,242.58 614.76,242.58 638.76,242.58 710.76,242.58" fill="none" stroke="#222" stroke-width="1.2" stroke-dasharray="4.5 3.5"/>
<rect x="436.7" y="241.28" width="13.4" height="2.6" rx="0.6" fill="#dedede" stroke="#1a1a1a" stroke-width="1"/>
<rect x="464.06" y="241.28" width="13.4" height="2.6" rx="0.6" fill="#dedede" stroke="#1a1a1a" stroke-width="1"/>
<rect x="488.06" y="241.28" width="13.4" height="2.6" rx="0.6" fill="#dedede" stroke="#1a1a1a" stroke-width="1"/>
<rect x="512.06" y="241.28" width="13.4" height="2.6" rx="0.6" fill="#dedede" stroke="#1a1a1a" stroke-width="1"/>
<rect x="536.06" y="241.28" width="13.4" height="2.6" rx="0.6" fill="#dedede" stroke="#1a1a1a" stroke-width="1"/>
<rect x="563.66" y="241.28" width="13.4" height="2.6" rx="0.6" fill="#dedede" stroke="#1a1a1a" stroke-width="1"/>
<rect x="584.06" y="241.28" width="13.4" height="2.6" rx="0.6" fill="#dedede" stroke="#1a1a1a" stroke-width="1"/>
<rect x="608.06" y="241.28" width="13.4" height="2.6" rx="0.6" fill="#dedede" stroke="#1a1a1a" stroke-width="1"/>
<rect x="632.06" y="241.28" width="13.4" height="2.6" rx="0.6" fill="#dedede" stroke="#1a1a1a" stroke-width="1"/>
<rect x="704.06" y="241.28" width="13.4" height="2.6" rx="0.6" fill="#dedede" stroke="#1a1a1a" stroke-width="1"/>
<polyline points="443.4,177.84 470.76,131.88 494.76,139.18 518.76,180.39 542.76,184.77 570.36,155.22 590.76,187.32 614.76,168.36 638.76,190.61 710.76,238.39" fill="none" stroke="#000" stroke-width="1.1"/>
<polyline points="443.4,179.3 470.76,136.26 494.76,142.46 518.76,165.44 542.76,190.61 570.36,184.77 590.76,184.04 614.76,162.88 638.76,184.77 710.76,241.67" fill="none" stroke="#000" stroke-width="1.1"/>
<polyline points="443.4,173.1 470.76,126.77 494.76,134.8 518.76,158.51 542.76,167.26 570.36,184.77 590.76,195.71 614.76,216.87 638.76,236.93 710.76,241.67" fill="none" stroke="#000" stroke-width="1.1"/>
<rect x="440.6" y="175.04" width="5.6" height="5.6" fill="#000"/>
<rect x="467.96" y="129.08" width="5.6" height="5.6" fill="#000"/>
<rect x="491.96" y="136.38" width="5.6" height="5.6" fill="#000"/>
<rect x="515.96" y="177.59" width="5.6" height="5.6" fill="#000"/>
<rect x="539.96" y="181.97" width="5.6" height="5.6" fill="#000"/>
<rect x="567.56" y="152.42" width="5.6" height="5.6" fill="#000"/>
<rect x="587.96" y="184.52" width="5.6" height="5.6" fill="#000"/>
<rect x="611.96" y="165.56" width="5.6" height="5.6" fill="#000"/>
<rect x="635.96" y="187.81" width="5.6" height="5.6" fill="#000"/>
<rect x="707.96" y="235.59" width="5.6" height="5.6" fill="#000"/>
<path d="M443.4,175.9 L446.5,181.9 L440.3,181.9 Z" fill="#fff" stroke="#000" stroke-width="1"/>
<path d="M470.76,132.86 L473.86,138.86 L467.66,138.86 Z" fill="#fff" stroke="#000" stroke-width="1"/>
<path d="M494.76,139.06 L497.86,145.06 L491.66,145.06 Z" fill="#fff" stroke="#000" stroke-width="1"/>
<path d="M518.76,162.04 L521.86,168.04 L515.66,168.04 Z" fill="#fff" stroke="#000" stroke-width="1"/>
<path d="M542.76,187.21 L545.86,193.21 L539.66,193.21 Z" fill="#fff" stroke="#000" stroke-width="1"/>
<path d="M570.36,181.37 L573.46,187.37 L567.26,187.37 Z" fill="#fff" stroke="#000" stroke-width="1"/>
<path d="M590.76,180.64 L593.86,186.64 L587.66,186.64 Z" fill="#fff" stroke="#000" stroke-width="1"/>
<path d="M614.76,159.48 L617.86,165.48 L611.66,165.48 Z" fill="#fff" stroke="#000" stroke-width="1"/>
<path d="M638.76,181.37 L641.86,187.37 L635.66,187.37 Z" fill="#fff" stroke="#000" stroke-width="1"/>
<path d="M710.76,238.27 L713.86,244.27 L707.66,244.27 Z" fill="#fff" stroke="#000" stroke-width="1"/>
<path d="M440.4,170.1 L446.4,176.1 M446.4,170.1 L440.4,176.1" stroke="#000" stroke-width="1.1" fill="none"/>
<path d="M467.76,123.77 L473.76,129.77 M473.76,123.77 L467.76,129.77" stroke="#000" stroke-width="1.1" fill="none"/>
<path d="M491.76,131.8 L497.76,137.8 M497.76,131.8 L491.76,137.8" stroke="#000" stroke-width="1.1" fill="none"/>
<path d="M515.76,155.51 L521.76,161.51 M521.76,155.51 L515.76,161.51" stroke="#000" stroke-width="1.1" fill="none"/>
<path d="M539.76,164.26 L545.76,170.26 M545.76,164.26 L539.76,170.26" stroke="#000" stroke-width="1.1" fill="none"/>
<path d="M567.36,181.77 L573.36,187.77 M573.36,181.77 L567.36,187.77" stroke="#000" stroke-width="1.1" fill="none"/>
<path d="M587.76,192.71 L593.76,198.71 M593.76,192.71 L587.76,198.71" stroke="#000" stroke-width="1.1" fill="none"/>
<path d="M611.76,213.87 L617.76,219.87 M617.76,213.87 L611.76,219.87" stroke="#000" stroke-width="1.1" fill="none"/>
<path d="M635.76,233.93 L641.76,239.93 M641.76,233.93 L635.76,239.93" stroke="#000" stroke-width="1.1" fill="none"/>
<path d="M707.76,238.67 L713.76,244.67 M713.76,238.67 L707.76,244.67" stroke="#000" stroke-width="1.1" fill="none"/>
<text x="727.5" y="111.6" font-size="16" font-weight="bold" text-anchor="end" transform="translate(0 111.6) scale(1 1.07) translate(0 -111.6)">(d)</text>
<g transform="translate(378.7,170.5) rotate(-90) scale(1 0.93)">
<text x="0" y="0" font-size="15.6" font-weight="bold" text-anchor="middle">Acetate</text>
<text x="0" y="20.65" font-size="15.6" font-weight="bold" text-anchor="middle">(g kg<tspan font-size="65%" baseline-shift="6">-1</tspan>)</text>
</g>
<line x1="467.4" y1="261.4" x2="467.4" y2="407.3" stroke="#d4d4d4" stroke-width="1"/>
<line x1="491.4" y1="261.4" x2="491.4" y2="407.3" stroke="#d4d4d4" stroke-width="1"/>
<line x1="515.4" y1="261.4" x2="515.4" y2="407.3" stroke="#d4d4d4" stroke-width="1"/>
<line x1="539.4" y1="261.4" x2="539.4" y2="407.3" stroke="#d4d4d4" stroke-width="1"/>
<line x1="563.4" y1="261.4" x2="563.4" y2="407.3" stroke="#d4d4d4" stroke-width="1"/>
<line x1="587.4" y1="261.4" x2="587.4" y2="407.3" stroke="#d4d4d4" stroke-width="1"/>
<line x1="611.4" y1="261.4" x2="611.4" y2="407.3" stroke="#d4d4d4" stroke-width="1"/>
<line x1="635.4" y1="261.4" x2="635.4" y2="407.3" stroke="#d4d4d4" stroke-width="1"/>
<line x1="659.4" y1="261.4" x2="659.4" y2="407.3" stroke="#d4d4d4" stroke-width="1"/>
<line x1="683.4" y1="261.4" x2="683.4" y2="407.3" stroke="#d4d4d4" stroke-width="1"/>
<line x1="707.4" y1="261.4" x2="707.4" y2="407.3" stroke="#d4d4d4" stroke-width="1"/>
<line x1="438.9" y1="407.3" x2="443.4" y2="407.3" stroke="#a6a6a6" stroke-width="1"/>
<text x="430.2" y="412.6" font-size="15" text-anchor="end" transform="translate(0 412.6) scale(1 1.07) translate(0 -412.6)">0</text>
<line x1="438.9" y1="370.82" x2="443.4" y2="370.82" stroke="#a6a6a6" stroke-width="1"/>
<text x="430.2" y="376.12" font-size="15" text-anchor="end" transform="translate(0 376.12) scale(1 1.07) translate(0 -376.12)">20</text>
<line x1="438.9" y1="334.35" x2="443.4" y2="334.35" stroke="#a6a6a6" stroke-width="1"/>
<text x="430.2" y="339.65" font-size="15" text-anchor="end" transform="translate(0 339.65) scale(1 1.07) translate(0 -339.65)">40</text>
<line x1="438.9" y1="297.88" x2="443.4" y2="297.88" stroke="#a6a6a6" stroke-width="1"/>
<text x="430.2" y="303.18" font-size="15" text-anchor="end" transform="translate(0 303.18) scale(1 1.07) translate(0 -303.18)">60</text>
<line x1="438.9" y1="261.4" x2="443.4" y2="261.4" stroke="#a6a6a6" stroke-width="1"/>
<text x="430.2" y="266.7" font-size="15" text-anchor="end" transform="translate(0 266.7) scale(1 1.07) translate(0 -266.7)">80</text>
<line x1="450.6" y1="262.6" x2="450.6" y2="407.3" stroke="#111" stroke-width="2" stroke-linecap="round" stroke-dasharray="0.4 3.6"/>
<line x1="491.4" y1="262.6" x2="491.4" y2="407.3" stroke="#111" stroke-width="2" stroke-linecap="round" stroke-dasharray="0.4 3.6"/>
<line x1="539.4" y1="262.6" x2="539.4" y2="407.3" stroke="#111" stroke-width="2" stroke-linecap="round" stroke-dasharray="0.4 3.6"/>
<line x1="635.4" y1="262.6" x2="635.4" y2="407.3" stroke="#111" stroke-width="2" stroke-linecap="round" stroke-dasharray="0.4 3.6"/>
<rect x="443.4" y="261.4" width="288" height="145.9" fill="none" stroke="#707070" stroke-width="1"/>
<line x1="443.4" y1="261.4" x2="731.4" y2="261.4" stroke="#555" stroke-width="1"/>
<polyline points="443.4,390.52 470.76,390.16 494.76,390.52 518.76,390.34 542.76,390.52 570.36,390.34 590.76,390.52 614.76,389.79 638.76,390.52 662.76,390.16 686.76,389.79 710.76,389.79" fill="none" stroke="#222" stroke-width="1.2" stroke-dasharray="4.5 3.5"/>
<rect x="436.7" y="389.22" width="13.4" height="2.6" rx="0.6" fill="#dedede" stroke="#1a1a1a" stroke-width="1"/>
<rect x="464.06" y="388.86" width="13.4" height="2.6" rx="0.6" fill="#dedede" stroke="#1a1a1a" stroke-width="1"/>
<rect x="488.06" y="389.22" width="13.4" height="2.6" rx="0.6" fill="#dedede" stroke="#1a1a1a" stroke-width="1"/>
<rect x="512.06" y="389.04" width="13.4" height="2.6" rx="0.6" fill="#dedede" stroke="#1a1a1a" stroke-width="1"/>
<rect x="536.06" y="389.22" width="13.4" height="2.6" rx="0.6" fill="#dedede" stroke="#1a1a1a" stroke-width="1"/>
<rect x="563.66" y="389.04" width="13.4" height="2.6" rx="0.6" fill="#dedede" stroke="#1a1a1a" stroke-width="1"/>
<rect x="584.06" y="389.22" width="13.4" height="2.6" rx="0.6" fill="#dedede" stroke="#1a1a1a" stroke-width="1"/>
<rect x="608.06" y="388.49" width="13.4" height="2.6" rx="0.6" fill="#dedede" stroke="#1a1a1a" stroke-width="1"/>
<rect x="632.06" y="389.22" width="13.4" height="2.6" rx="0.6" fill="#dedede" stroke="#1a1a1a" stroke-width="1"/>
<rect x="656.06" y="388.86" width="13.4" height="2.6" rx="0.6" fill="#dedede" stroke="#1a1a1a" stroke-width="1"/>
<rect x="680.06" y="388.49" width="13.4" height="2.6" rx="0.6" fill="#dedede" stroke="#1a1a1a" stroke-width="1"/>
<rect x="704.06" y="388.49" width="13.4" height="2.6" rx="0.6" fill="#dedede" stroke="#1a1a1a" stroke-width="1"/>
<polyline points="443.4,295.14 470.76,325.23 494.76,334.17 518.76,341.83 542.76,348.58 570.36,353.68 590.76,371.19 614.76,380.31 638.76,380.31 662.76,367.54 686.76,361.34 710.76,361.34" fill="none" stroke="#000" stroke-width="1.1"/>
<polyline points="443.4,298.6 470.76,320.85 494.76,335.63 518.76,343.83 542.76,349.49 570.36,356.24 590.76,367 614.76,382.86 638.76,388.52 662.76,383.41 686.76,370.64 710.76,361.34" fill="none" stroke="#000" stroke-width="1.1"/>
<polyline points="443.4,304.44 470.76,323.95 494.76,338.18 518.76,347.48 542.76,350.58 570.36,354.41 590.76,361.34 614.76,352.59 638.76,348.58 662.76,349.12 686.76,355.69 710.76,361.34" fill="none" stroke="#000" stroke-width="1.1"/>
<rect x="440.6" y="292.34" width="5.6" height="5.6" fill="#000"/>
<rect x="467.96" y="322.43" width="5.6" height="5.6" fill="#000"/>
<rect x="491.96" y="331.37" width="5.6" height="5.6" fill="#000"/>
<rect x="515.96" y="339.03" width="5.6" height="5.6" fill="#000"/>
<rect x="539.96" y="345.78" width="5.6" height="5.6" fill="#000"/>
<rect x="567.56" y="350.88" width="5.6" height="5.6" fill="#000"/>
<rect x="587.96" y="368.39" width="5.6" height="5.6" fill="#000"/>
<rect x="611.96" y="377.51" width="5.6" height="5.6" fill="#000"/>
<rect x="635.96" y="377.51" width="5.6" height="5.6" fill="#000"/>
<rect x="659.96" y="364.74" width="5.6" height="5.6" fill="#000"/>
<rect x="683.96" y="358.54" width="5.6" height="5.6" fill="#000"/>
<rect x="707.96" y="358.54" width="5.6" height="5.6" fill="#000"/>
<path d="M443.4,295.2 L446.5,301.2 L440.3,301.2 Z" fill="#fff" stroke="#000" stroke-width="1"/>
<path d="M470.76,317.45 L473.86,323.45 L467.66,323.45 Z" fill="#fff" stroke="#000" stroke-width="1"/>
<path d="M494.76,332.23 L497.86,338.23 L491.66,338.23 Z" fill="#fff" stroke="#000" stroke-width="1"/>
<path d="M518.76,340.43 L521.86,346.43 L515.66,346.43 Z" fill="#fff" stroke="#000" stroke-width="1"/>
<path d="M542.76,346.09 L545.86,352.09 L539.66,352.09 Z" fill="#fff" stroke="#000" stroke-width="1"/>
<path d="M570.36,352.84 L573.46,358.84 L567.26,358.84 Z" fill="#fff" stroke="#000" stroke-width="1"/>
<path d="M590.76,363.6 L593.86,369.6 L587.66,369.6 Z" fill="#fff" stroke="#000" stroke-width="1"/>
<path d="M614.76,379.46 L617.86,385.46 L611.66,385.46 Z" fill="#fff" stroke="#000" stroke-width="1"/>
<path d="M638.76,385.12 L641.86,391.12 L635.66,391.12 Z" fill="#fff" stroke="#000" stroke-width="1"/>
<path d="M662.76,380.01 L665.86,386.01 L659.66,386.01 Z" fill="#fff" stroke="#000" stroke-width="1"/>
<path d="M686.76,367.24 L689.86,373.24 L683.66,373.24 Z" fill="#fff" stroke="#000" stroke-width="1"/>
<path d="M710.76,357.94 L713.86,363.94 L707.66,363.94 Z" fill="#fff" stroke="#000" stroke-width="1"/>
<path d="M440.4,301.44 L446.4,307.44 M446.4,301.44 L440.4,307.44" stroke="#000" stroke-width="1.1" fill="none"/>
<path d="M467.76,320.95 L473.76,326.95 M473.76,320.95 L467.76,326.95" stroke="#000" stroke-width="1.1" fill="none"/>
<path d="M491.76,335.18 L497.76,341.18 M497.76,335.18 L491.76,341.18" stroke="#000" stroke-width="1.1" fill="none"/>
<path d="M515.76,344.48 L521.76,350.48 M521.76,344.48 L515.76,350.48" stroke="#000" stroke-width="1.1" fill="none"/>
<path d="M539.76,347.58 L545.76,353.58 M545.76,347.58 L539.76,353.58" stroke="#000" stroke-width="1.1" fill="none"/>
<path d="M567.36,351.41 L573.36,357.41 M573.36,351.41 L567.36,357.41" stroke="#000" stroke-width="1.1" fill="none"/>
<path d="M587.76,358.34 L593.76,364.34 M593.76,358.34 L587.76,364.34" stroke="#000" stroke-width="1.1" fill="none"/>
<path d="M611.76,349.59 L617.76,355.59 M617.76,349.59 L611.76,355.59" stroke="#000" stroke-width="1.1" fill="none"/>
<path d="M635.76,345.58 L641.76,351.58 M641.76,345.58 L635.76,351.58" stroke="#000" stroke-width="1.1" fill="none"/>
<path d="M659.76,346.12 L665.76,352.12 M665.76,346.12 L659.76,352.12" stroke="#000" stroke-width="1.1" fill="none"/>
<path d="M683.76,352.69 L689.76,358.69 M689.76,352.69 L683.76,358.69" stroke="#000" stroke-width="1.1" fill="none"/>
<path d="M707.76,358.34 L713.76,364.34 M713.76,358.34 L707.76,364.34" stroke="#000" stroke-width="1.1" fill="none"/>
<text x="728" y="275.8" font-size="16" font-weight="bold" text-anchor="end" transform="translate(0 275.8) scale(1 1.07) translate(0 -275.8)">(e)</text>
<g transform="translate(378.6,335.5) rotate(-90) scale(1 0.93)">
<text x="0" y="0" font-size="15.6" font-weight="bold" text-anchor="middle">TIC</text>
<text x="0" y="20.65" font-size="15.6" font-weight="bold" text-anchor="middle">(g_CaCO<tspan font-size="65%" baseline-shift="-4">3</tspan> L<tspan font-size="65%" baseline-shift="6">-1</tspan>)</text>
</g>
<line x1="467.4" y1="427.8" x2="467.4" y2="571.7" stroke="#d4d4d4" stroke-width="1"/>
<line x1="491.4" y1="427.8" x2="491.4" y2="571.7" stroke="#d4d4d4" stroke-width="1"/>
<line x1="515.4" y1="427.8" x2="515.4" y2="571.7" stroke="#d4d4d4" stroke-width="1"/>
<line x1="539.4" y1="427.8" x2="539.4" y2="571.7" stroke="#d4d4d4" stroke-width="1"/>
<line x1="563.4" y1="427.8" x2="563.4" y2="571.7" stroke="#d4d4d4" stroke-width="1"/>
<line x1="587.4" y1="427.8" x2="587.4" y2="571.7" stroke="#d4d4d4" stroke-width="1"/>
<line x1="611.4" y1="427.8" x2="611.4" y2="571.7" stroke="#d4d4d4" stroke-width="1"/>
<line x1="635.4" y1="427.8" x2="635.4" y2="571.7" stroke="#d4d4d4" stroke-width="1"/>
<line x1="659.4" y1="427.8" x2="659.4" y2="571.7" stroke="#d4d4d4" stroke-width="1"/>
<line x1="683.4" y1="427.8" x2="683.4" y2="571.7" stroke="#d4d4d4" stroke-width="1"/>
<line x1="707.4" y1="427.8" x2="707.4" y2="571.7" stroke="#d4d4d4" stroke-width="1"/>
<line x1="438.9" y1="571.7" x2="443.4" y2="571.7" stroke="#a6a6a6" stroke-width="1"/>
<text x="430.2" y="577" font-size="15" text-anchor="end" transform="translate(0 577) scale(1 1.07) translate(0 -577)">0</text>
<line x1="438.9" y1="523.73" x2="443.4" y2="523.73" stroke="#a6a6a6" stroke-width="1"/>
<text x="430.2" y="529.03" font-size="15" text-anchor="end" transform="translate(0 529.03) scale(1 1.07) translate(0 -529.03)">10</text>
<line x1="438.9" y1="475.77" x2="443.4" y2="475.77" stroke="#a6a6a6" stroke-width="1"/>
<text x="430.2" y="481.07" font-size="15" text-anchor="end" transform="translate(0 481.07) scale(1 1.07) translate(0 -481.07)">20</text>
<line x1="438.9" y1="427.8" x2="443.4" y2="427.8" stroke="#a6a6a6" stroke-width="1"/>
<text x="430.2" y="433.1" font-size="15" text-anchor="end" transform="translate(0 433.1) scale(1 1.07) translate(0 -433.1)">30</text>
<line x1="450.6" y1="429" x2="450.6" y2="571.7" stroke="#111" stroke-width="2" stroke-linecap="round" stroke-dasharray="0.4 3.6"/>
<line x1="491.4" y1="429" x2="491.4" y2="571.7" stroke="#111" stroke-width="2" stroke-linecap="round" stroke-dasharray="0.4 3.6"/>
<line x1="539.4" y1="429" x2="539.4" y2="571.7" stroke="#111" stroke-width="2" stroke-linecap="round" stroke-dasharray="0.4 3.6"/>
<line x1="635.4" y1="429" x2="635.4" y2="571.7" stroke="#111" stroke-width="2" stroke-linecap="round" stroke-dasharray="0.4 3.6"/>
<rect x="443.4" y="427.8" width="288" height="143.9" fill="none" stroke="#707070" stroke-width="1"/>
<line x1="443.4" y1="427.8" x2="731.4" y2="427.8" stroke="#555" stroke-width="1"/>
<polyline points="443.4,463.3 470.76,461.86 494.76,458.5 518.76,462.34 542.76,466.17 570.36,466.65 590.76,467.13 614.76,468.57 638.76,470.49 662.76,469.05 686.76,471.93 710.76,469.53" fill="none" stroke="#222" stroke-width="1.2" stroke-dasharray="4.5 3.5"/>
<rect x="436.7" y="462" width="13.4" height="2.6" rx="0.6" fill="#dedede" stroke="#1a1a1a" stroke-width="1"/>
<rect x="464.06" y="460.56" width="13.4" height="2.6" rx="0.6" fill="#dedede" stroke="#1a1a1a" stroke-width="1"/>
<rect x="488.06" y="457.2" width="13.4" height="2.6" rx="0.6" fill="#dedede" stroke="#1a1a1a" stroke-width="1"/>
<rect x="512.06" y="461.04" width="13.4" height="2.6" rx="0.6" fill="#dedede" stroke="#1a1a1a" stroke-width="1"/>
<rect x="536.06" y="464.87" width="13.4" height="2.6" rx="0.6" fill="#dedede" stroke="#1a1a1a" stroke-width="1"/>
<rect x="563.66" y="465.35" width="13.4" height="2.6" rx="0.6" fill="#dedede" stroke="#1a1a1a" stroke-width="1"/>
<rect x="584.06" y="465.83" width="13.4" height="2.6" rx="0.6" fill="#dedede" stroke="#1a1a1a" stroke-width="1"/>
<rect x="608.06" y="467.27" width="13.4" height="2.6" rx="0.6" fill="#dedede" stroke="#1a1a1a" stroke-width="1"/>
<rect x="632.06" y="469.19" width="13.4" height="2.6" rx="0.6" fill="#dedede" stroke="#1a1a1a" stroke-width="1"/>
<rect x="656.06" y="467.75" width="13.4" height="2.6" rx="0.6" fill="#dedede" stroke="#1a1a1a" stroke-width="1"/>
<rect x="680.06" y="470.63" width="13.4" height="2.6" rx="0.6" fill="#dedede" stroke="#1a1a1a" stroke-width="1"/>
<rect x="704.06" y="468.23" width="13.4" height="2.6" rx="0.6" fill="#dedede" stroke="#1a1a1a" stroke-width="1"/>
<polyline points="443.4,440.75 470.76,468.09 494.76,469.05 518.76,479.12 542.76,491.6 570.36,500.71 590.76,497.83 614.76,492.08 638.76,489.68 662.76,489.68 686.76,487.76 710.76,485.36" fill="none" stroke="#000" stroke-width="1.1"/>
<polyline points="443.4,427.8 470.76,456.1 494.76,469.05 518.76,479.12 542.76,486.32 570.36,492.08 590.76,493.51 614.76,488.72 638.76,487.76 662.76,489.68 686.76,487.76 710.76,473.85" fill="none" stroke="#000" stroke-width="1.1"/>
<polyline points="443.4,427.8 470.76,452.74 494.76,469.05 518.76,481.52 542.76,489.68 570.36,494.95 590.76,485.36 614.76,472.89 638.76,463.78 662.76,462.34 686.76,463.3 710.76,459.94" fill="none" stroke="#000" stroke-width="1.1"/>
<rect x="440.6" y="437.95" width="5.6" height="5.6" fill="#000"/>
<rect x="467.96" y="465.29" width="5.6" height="5.6" fill="#000"/>
<rect x="491.96" y="466.25" width="5.6" height="5.6" fill="#000"/>
<rect x="515.96" y="476.32" width="5.6" height="5.6" fill="#000"/>
<rect x="539.96" y="488.8" width="5.6" height="5.6" fill="#000"/>
<rect x="567.56" y="497.91" width="5.6" height="5.6" fill="#000"/>
<rect x="587.96" y="495.03" width="5.6" height="5.6" fill="#000"/>
<rect x="611.96" y="489.28" width="5.6" height="5.6" fill="#000"/>
<rect x="635.96" y="486.88" width="5.6" height="5.6" fill="#000"/>
<rect x="659.96" y="486.88" width="5.6" height="5.6" fill="#000"/>
<rect x="683.96" y="484.96" width="5.6" height="5.6" fill="#000"/>
<rect x="707.96" y="482.56" width="5.6" height="5.6" fill="#000"/>
<path d="M443.4,424.4 L446.5,430.4 L440.3,430.4 Z" fill="#fff" stroke="#000" stroke-width="1"/>
<path d="M470.76,452.7 L473.86,458.7 L467.66,458.7 Z" fill="#fff" stroke="#000" stroke-width="1"/>
<path d="M494.76,465.65 L497.86,471.65 L491.66,471.65 Z" fill="#fff" stroke="#000" stroke-width="1"/>
<path d="M518.76,475.72 L521.86,481.72 L515.66,481.72 Z" fill="#fff" stroke="#000" stroke-width="1"/>
<path d="M542.76,482.92 L545.86,488.92 L539.66,488.92 Z" fill="#fff" stroke="#000" stroke-width="1"/>
<path d="M570.36,488.68 L573.46,494.68 L567.26,494.68 Z" fill="#fff" stroke="#000" stroke-width="1"/>
<path d="M590.76,490.11 L593.86,496.11 L587.66,496.11 Z" fill="#fff" stroke="#000" stroke-width="1"/>
<path d="M614.76,485.32 L617.86,491.32 L611.66,491.32 Z" fill="#fff" stroke="#000" stroke-width="1"/>
<path d="M638.76,484.36 L641.86,490.36 L635.66,490.36 Z" fill="#fff" stroke="#000" stroke-width="1"/>
<path d="M662.76,486.28 L665.86,492.28 L659.66,492.28 Z" fill="#fff" stroke="#000" stroke-width="1"/>
<path d="M686.76,484.36 L689.86,490.36 L683.66,490.36 Z" fill="#fff" stroke="#000" stroke-width="1"/>
<path d="M710.76,470.45 L713.86,476.45 L707.66,476.45 Z" fill="#fff" stroke="#000" stroke-width="1"/>
<path d="M440.4,424.8 L446.4,430.8 M446.4,424.8 L440.4,430.8" stroke="#000" stroke-width="1.1" fill="none"/>
<path d="M467.76,449.74 L473.76,455.74 M473.76,449.74 L467.76,455.74" stroke="#000" stroke-width="1.1" fill="none"/>
<path d="M491.76,466.05 L497.76,472.05 M497.76,466.05 L491.76,472.05" stroke="#000" stroke-width="1.1" fill="none"/>
<path d="M515.76,478.52 L521.76,484.52 M521.76,478.52 L515.76,484.52" stroke="#000" stroke-width="1.1" fill="none"/>
<path d="M539.76,486.68 L545.76,492.68 M545.76,486.68 L539.76,492.68" stroke="#000" stroke-width="1.1" fill="none"/>
<path d="M567.36,491.95 L573.36,497.95 M573.36,491.95 L567.36,497.95" stroke="#000" stroke-width="1.1" fill="none"/>
<path d="M587.76,482.36 L593.76,488.36 M593.76,482.36 L587.76,488.36" stroke="#000" stroke-width="1.1" fill="none"/>
<path d="M611.76,469.89 L617.76,475.89 M617.76,469.89 L611.76,475.89" stroke="#000" stroke-width="1.1" fill="none"/>
<path d="M635.76,460.78 L641.76,466.78 M641.76,460.78 L635.76,466.78" stroke="#000" stroke-width="1.1" fill="none"/>
<path d="M659.76,459.34 L665.76,465.34 M665.76,459.34 L659.76,465.34" stroke="#000" stroke-width="1.1" fill="none"/>
<path d="M683.76,460.3 L689.76,466.3 M689.76,460.3 L683.76,466.3" stroke="#000" stroke-width="1.1" fill="none"/>
<path d="M707.76,456.94 L713.76,462.94 M713.76,456.94 L707.76,462.94" stroke="#000" stroke-width="1.1" fill="none"/>
<text x="728.6" y="440.6" font-size="16" font-weight="bold" text-anchor="end" transform="translate(0 440.6) scale(1 1.07) translate(0 -440.6)">(f)</text>
<g transform="translate(379.2,502.5) rotate(-90) scale(1 0.93)">
<text x="0" y="0" font-size="15.6" font-weight="bold" text-anchor="middle">TS</text>
<text x="0" y="20.65" font-size="15.6" font-weight="bold" text-anchor="middle">(g kg<tspan font-size="65%" baseline-shift="6">-1</tspan>)</text>
</g>
<line x1="467.4" y1="591.5" x2="467.4" y2="737.2" stroke="#d4d4d4" stroke-width="1"/>
<line x1="491.4" y1="591.5" x2="491.4" y2="737.2" stroke="#d4d4d4" stroke-width="1"/>
<line x1="515.4" y1="591.5" x2="515.4" y2="737.2" stroke="#d4d4d4" stroke-width="1"/>
<line x1="539.4" y1="591.5" x2="539.4" y2="737.2" stroke="#d4d4d4" stroke-width="1"/>
<line x1="563.4" y1="591.5" x2="563.4" y2="737.2" stroke="#d4d4d4" stroke-width="1"/>
<line x1="587.4" y1="591.5" x2="587.4" y2="737.2" stroke="#d4d4d4" stroke-width="1"/>
<line x1="611.4" y1="591.5" x2="611.4" y2="737.2" stroke="#d4d4d4" stroke-width="1"/>
<line x1="635.4" y1="591.5" x2="635.4" y2="737.2" stroke="#d4d4d4" stroke-width="1"/>
<line x1="659.4" y1="591.5" x2="659.4" y2="737.2" stroke="#d4d4d4" stroke-width="1"/>
<line x1="683.4" y1="591.5" x2="683.4" y2="737.2" stroke="#d4d4d4" stroke-width="1"/>
<line x1="707.4" y1="591.5" x2="707.4" y2="737.2" stroke="#d4d4d4" stroke-width="1"/>
<line x1="438.9" y1="737.2" x2="443.4" y2="737.2" stroke="#a6a6a6" stroke-width="1"/>
<text x="430.2" y="742.5" font-size="15" text-anchor="end" transform="translate(0 742.5) scale(1 1.07) translate(0 -742.5)">0</text>
<line x1="438.9" y1="708.06" x2="443.4" y2="708.06" stroke="#a6a6a6" stroke-width="1"/>
<text x="430.2" y="713.36" font-size="15" text-anchor="end" transform="translate(0 713.36) scale(1 1.07) translate(0 -713.36)">4</text>
<line x1="438.9" y1="678.92" x2="443.4" y2="678.92" stroke="#a6a6a6" stroke-width="1"/>
<text x="430.2" y="684.22" font-size="15" text-anchor="end" transform="translate(0 684.22) scale(1 1.07) translate(0 -684.22)">8</text>
<line x1="438.9" y1="649.78" x2="443.4" y2="649.78" stroke="#a6a6a6" stroke-width="1"/>
<text x="430.2" y="655.08" font-size="15" text-anchor="end" transform="translate(0 655.08) scale(1 1.07) translate(0 -655.08)">12</text>
<line x1="438.9" y1="620.64" x2="443.4" y2="620.64" stroke="#a6a6a6" stroke-width="1"/>
<text x="430.2" y="625.94" font-size="15" text-anchor="end" transform="translate(0 625.94) scale(1 1.07) translate(0 -625.94)">16</text>
<line x1="438.9" y1="591.5" x2="443.4" y2="591.5" stroke="#a6a6a6" stroke-width="1"/>
<text x="430.2" y="596.8" font-size="15" text-anchor="end" transform="translate(0 596.8) scale(1 1.07) translate(0 -596.8)">20</text>
<line x1="731.4" y1="737.2" x2="735.9" y2="737.2" stroke="#a6a6a6" stroke-width="1"/>
<text x="744.7" y="742.5" font-size="15" text-anchor="start" transform="translate(0 742.5) scale(1 1.07) translate(0 -742.5)">0</text>
<line x1="731.4" y1="708.06" x2="735.9" y2="708.06" stroke="#a6a6a6" stroke-width="1"/>
<text x="744.7" y="713.36" font-size="15" text-anchor="start" transform="translate(0 713.36) scale(1 1.07) translate(0 -713.36)">2</text>
<line x1="731.4" y1="678.92" x2="735.9" y2="678.92" stroke="#a6a6a6" stroke-width="1"/>
<text x="744.7" y="684.22" font-size="15" text-anchor="start" transform="translate(0 684.22) scale(1 1.07) translate(0 -684.22)">4</text>
<line x1="731.4" y1="649.78" x2="735.9" y2="649.78" stroke="#a6a6a6" stroke-width="1"/>
<text x="744.7" y="655.08" font-size="15" text-anchor="start" transform="translate(0 655.08) scale(1 1.07) translate(0 -655.08)">6</text>
<line x1="731.4" y1="620.64" x2="735.9" y2="620.64" stroke="#a6a6a6" stroke-width="1"/>
<text x="744.7" y="625.94" font-size="15" text-anchor="start" transform="translate(0 625.94) scale(1 1.07) translate(0 -625.94)">8</text>
<line x1="731.4" y1="591.5" x2="735.9" y2="591.5" stroke="#a6a6a6" stroke-width="1"/>
<text x="744.7" y="596.8" font-size="15" text-anchor="start" transform="translate(0 596.8) scale(1 1.07) translate(0 -596.8)">10</text>
<line x1="450.6" y1="592.7" x2="450.6" y2="737.2" stroke="#111" stroke-width="2" stroke-linecap="round" stroke-dasharray="0.4 3.6"/>
<line x1="491.4" y1="592.7" x2="491.4" y2="737.2" stroke="#111" stroke-width="2" stroke-linecap="round" stroke-dasharray="0.4 3.6"/>
<line x1="539.4" y1="592.7" x2="539.4" y2="737.2" stroke="#111" stroke-width="2" stroke-linecap="round" stroke-dasharray="0.4 3.6"/>
<line x1="635.4" y1="592.7" x2="635.4" y2="737.2" stroke="#111" stroke-width="2" stroke-linecap="round" stroke-dasharray="0.4 3.6"/>
<text x="443.4" y="758" font-size="15" text-anchor="middle" transform="translate(0 758) scale(1 1.07) translate(0 -758)">0</text>
<text x="491.4" y="758" font-size="15" text-anchor="middle" transform="translate(0 758) scale(1 1.07) translate(0 -758)">2</text>
<text x="539.4" y="758" font-size="15" text-anchor="middle" transform="translate(0 758) scale(1 1.07) translate(0 -758)">4</text>
<text x="587.4" y="758" font-size="15" text-anchor="middle" transform="translate(0 758) scale(1 1.07) translate(0 -758)">6</text>
<text x="635.4" y="758" font-size="15" text-anchor="middle" transform="translate(0 758) scale(1 1.07) translate(0 -758)">8</text>
<text x="683.4" y="758" font-size="15" text-anchor="middle" transform="translate(0 758) scale(1 1.07) translate(0 -758)">10</text>
<rect x="455.4" y="678.92" width="7.5" height="58.28" fill="#fff" stroke="#000" stroke-width="1"/>
<rect x="479.4" y="664.35" width="7.5" height="72.85" fill="#fff" stroke="#000" stroke-width="1"/>
<rect x="503.4" y="664.35" width="7.5" height="72.85" fill="#fff" stroke="#000" stroke-width="1"/>
<rect x="527.4" y="664.35" width="7.5" height="72.85" fill="#fff" stroke="#000" stroke-width="1"/>
<rect x="543.9" y="722.63" width="7.5" height="14.57" fill="#808080" stroke="#000" stroke-width="1"/>
<rect x="551.4" y="664.35" width="7.5" height="72.85" fill="#fff" stroke="#000" stroke-width="1"/>
<rect x="567.9" y="700.78" width="7.5" height="36.42" fill="#808080" stroke="#000" stroke-width="1"/>
<rect x="575.4" y="678.92" width="7.5" height="58.28" fill="#fff" stroke="#000" stroke-width="1"/>
<rect x="591.9" y="664.35" width="7.5" height="72.85" fill="#808080" stroke="#000" stroke-width="1"/>
<rect x="599.4" y="664.35" width="7.5" height="72.85" fill="#fff" stroke="#000" stroke-width="1"/>
<rect x="615.9" y="664.35" width="7.5" height="72.85" fill="#808080" stroke="#000" stroke-width="1"/>
<rect x="623.4" y="664.35" width="7.5" height="72.85" fill="#fff" stroke="#000" stroke-width="1"/>
<rect x="639.9" y="664.35" width="7.5" height="72.85" fill="#808080" stroke="#000" stroke-width="1"/>
<rect x="647.4" y="664.35" width="7.5" height="72.85" fill="#fff" stroke="#000" stroke-width="1"/>
<rect x="663.9" y="693.49" width="7.5" height="43.71" fill="#808080" stroke="#000" stroke-width="1"/>
<rect x="671.4" y="693.49" width="7.5" height="43.71" fill="#fff" stroke="#000" stroke-width="1"/>
<rect x="687.9" y="693.49" width="7.5" height="43.71" fill="#808080" stroke="#000" stroke-width="1"/>
<rect x="695.4" y="693.49" width="7.5" height="43.71" fill="#fff" stroke="#000" stroke-width="1"/>
<rect x="711.9" y="664.35" width="7.5" height="72.85" fill="#808080" stroke="#000" stroke-width="1"/>
<rect x="719.4" y="664.35" width="7.5" height="72.85" fill="#fff" stroke="#000" stroke-width="1"/>
<rect x="443.4" y="591.5" width="288" height="145.7" fill="none" stroke="#707070" stroke-width="1"/>
<line x1="443.4" y1="591.5" x2="731.4" y2="591.5" stroke="#555" stroke-width="1"/>
<polyline points="455.4,661.44 479.4,636.96 503.4,635.94 527.4,634.48 551.4,632 575.4,638.12 599.4,640.02 623.4,644.24 647.4,643.08 671.4,646.14 695.4,677.75 719.4,650.36" fill="none" stroke="#222" stroke-width="1.2" stroke-dasharray="4.5 3.5"/>
<rect x="448.7" y="660.14" width="13.4" height="2.6" rx="0.6" fill="#dedede" stroke="#1a1a1a" stroke-width="1"/>
<rect x="472.7" y="635.66" width="13.4" height="2.6" rx="0.6" fill="#dedede" stroke="#1a1a1a" stroke-width="1"/>
<rect x="496.7" y="634.64" width="13.4" height="2.6" rx="0.6" fill="#dedede" stroke="#1a1a1a" stroke-width="1"/>
<rect x="520.7" y="633.18" width="13.4" height="2.6" rx="0.6" fill="#dedede" stroke="#1a1a1a" stroke-width="1"/>
<rect x="544.7" y="630.7" width="13.4" height="2.6" rx="0.6" fill="#dedede" stroke="#1a1a1a" stroke-width="1"/>
<rect x="568.7" y="636.82" width="13.4" height="2.6" rx="0.6" fill="#dedede" stroke="#1a1a1a" stroke-width="1"/>
<rect x="592.7" y="638.72" width="13.4" height="2.6" rx="0.6" fill="#dedede" stroke="#1a1a1a" stroke-width="1"/>
<rect x="616.7" y="642.94" width="13.4" height="2.6" rx="0.6" fill="#dedede" stroke="#1a1a1a" stroke-width="1"/>
<rect x="640.7" y="641.78" width="13.4" height="2.6" rx="0.6" fill="#dedede" stroke="#1a1a1a" stroke-width="1"/>
<rect x="664.7" y="644.84" width="13.4" height="2.6" rx="0.6" fill="#dedede" stroke="#1a1a1a" stroke-width="1"/>
<rect x="688.7" y="676.45" width="13.4" height="2.6" rx="0.6" fill="#dedede" stroke="#1a1a1a" stroke-width="1"/>
<rect x="712.7" y="649.06" width="13.4" height="2.6" rx="0.6" fill="#dedede" stroke="#1a1a1a" stroke-width="1"/>
<polyline points="455.4,711.27 479.4,737.2 503.4,737.2 527.4,737.2 551.4,733.12 575.4,721.46 599.4,709.95 623.4,696.84 647.4,659.98 671.4,621.37 695.4,669.6 719.4,661" fill="none" stroke="#000" stroke-width="1.1"/>
<polyline points="455.4,714.33 479.4,737.2 503.4,737.2 527.4,737.2 551.4,737.2 575.4,721.46 599.4,709.95 623.4,708.35 647.4,691.3 671.4,623.55 695.4,665.52 719.4,693.78" fill="none" stroke="#000" stroke-width="1.1"/>
<polyline points="455.4,710.97 479.4,737.2 503.4,737.2 527.4,737.2 551.4,734.14 575.4,701.5 599.4,638.12 623.4,643.81 647.4,655.61 671.4,666.1 695.4,689.7 719.4,661.44" fill="none" stroke="#000" stroke-width="1.1"/>
<rect x="452.6" y="708.47" width="5.6" height="5.6" fill="#000"/>
<rect x="476.6" y="734.4" width="5.6" height="5.6" fill="#000"/>
<rect x="500.6" y="734.4" width="5.6" height="5.6" fill="#000"/>
<rect x="524.6" y="734.4" width="5.6" height="5.6" fill="#000"/>
<rect x="548.6" y="730.32" width="5.6" height="5.6" fill="#000"/>
<rect x="572.6" y="718.66" width="5.6" height="5.6" fill="#000"/>
<rect x="596.6" y="707.15" width="5.6" height="5.6" fill="#000"/>
<rect x="620.6" y="694.04" width="5.6" height="5.6" fill="#000"/>
<rect x="644.6" y="657.18" width="5.6" height="5.6" fill="#000"/>
<rect x="668.6" y="618.57" width="5.6" height="5.6" fill="#000"/>
<rect x="692.6" y="666.8" width="5.6" height="5.6" fill="#000"/>
<rect x="716.6" y="658.2" width="5.6" height="5.6" fill="#000"/>
<path d="M455.4,710.93 L458.5,716.93 L452.3,716.93 Z" fill="#fff" stroke="#000" stroke-width="1"/>
<path d="M479.4,733.8 L482.5,739.8 L476.3,739.8 Z" fill="#fff" stroke="#000" stroke-width="1"/>
<path d="M503.4,733.8 L506.5,739.8 L500.3,739.8 Z" fill="#fff" stroke="#000" stroke-width="1"/>
<path d="M527.4,733.8 L530.5,739.8 L524.3,739.8 Z" fill="#fff" stroke="#000" stroke-width="1"/>
<path d="M551.4,733.8 L554.5,739.8 L548.3,739.8 Z" fill="#fff" stroke="#000" stroke-width="1"/>
<path d="M575.4,718.06 L578.5,724.06 L572.3,724.06 Z" fill="#fff" stroke="#000" stroke-width="1"/>
<path d="M599.4,706.55 L602.5,712.55 L596.3,712.55 Z" fill="#fff" stroke="#000" stroke-width="1"/>
<path d="M623.4,704.95 L626.5,710.95 L620.3,710.95 Z" fill="#fff" stroke="#000" stroke-width="1"/>
<path d="M647.4,687.9 L650.5,693.9 L644.3,693.9 Z" fill="#fff" stroke="#000" stroke-width="1"/>
<path d="M671.4,620.15 L674.5,626.15 L668.3,626.15 Z" fill="#fff" stroke="#000" stroke-width="1"/>
<path d="M695.4,662.12 L698.5,668.12 L692.3,668.12 Z" fill="#fff" stroke="#000" stroke-width="1"/>
<path d="M719.4,690.38 L722.5,696.38 L716.3,696.38 Z" fill="#fff" stroke="#000" stroke-width="1"/>
<path d="M452.4,707.97 L458.4,713.97 M458.4,707.97 L452.4,713.97" stroke="#000" stroke-width="1.1" fill="none"/>
<path d="M476.4,734.2 L482.4,740.2 M482.4,734.2 L476.4,740.2" stroke="#000" stroke-width="1.1" fill="none"/>
<path d="M500.4,734.2 L506.4,740.2 M506.4,734.2 L500.4,740.2" stroke="#000" stroke-width="1.1" fill="none"/>
<path d="M524.4,734.2 L530.4,740.2 M530.4,734.2 L524.4,740.2" stroke="#000" stroke-width="1.1" fill="none"/>
<path d="M548.4,731.14 L554.4,737.14 M554.4,731.14 L548.4,737.14" stroke="#000" stroke-width="1.1" fill="none"/>
<path d="M572.4,698.5 L578.4,704.5 M578.4,698.5 L572.4,704.5" stroke="#000" stroke-width="1.1" fill="none"/>
<path d="M596.4,635.12 L602.4,641.12 M602.4,635.12 L596.4,641.12" stroke="#000" stroke-width="1.1" fill="none"/>
<path d="M620.4,640.81 L626.4,646.81 M626.4,640.81 L620.4,646.81" stroke="#000" stroke-width="1.1" fill="none"/>
<path d="M644.4,652.61 L650.4,658.61 M650.4,652.61 L644.4,658.61" stroke="#000" stroke-width="1.1" fill="none"/>
<path d="M668.4,663.1 L674.4,669.1 M674.4,663.1 L668.4,669.1" stroke="#000" stroke-width="1.1" fill="none"/>
<path d="M692.4,686.7 L698.4,692.7 M698.4,686.7 L692.4,692.7" stroke="#000" stroke-width="1.1" fill="none"/>
<path d="M716.4,658.44 L722.4,664.44 M722.4,658.44 L716.4,664.44" stroke="#000" stroke-width="1.1" fill="none"/>
<text x="729.7" y="605.6" font-size="16" font-weight="bold" text-anchor="end" transform="translate(0 605.6) scale(1 1.07) translate(0 -605.6)">(g)</text>
<g transform="translate(379.4,665.3) rotate(-90) scale(1 0.93)">
<text x="0" y="0" font-size="15.6" font-weight="bold" text-anchor="middle">Pulp input</text>
<text x="0" y="20.65" font-size="15.6" font-weight="bold" text-anchor="middle">(g_VS L<tspan font-size="65%" baseline-shift="6">-1</tspan> week<tspan font-size="65%" baseline-shift="6">-1</tspan>)</text>
</g>
<g transform="translate(779,650) rotate(-90) scale(1 0.93)">
<text x="0" y="0" font-size="15.7" font-weight="bold" text-anchor="middle">Biogas production (L<tspan font-size="65%" baseline-shift="-4">N</tspan> L<tspan font-size="65%" baseline-shift="6">-1</tspan> week<tspan font-size="65%" baseline-shift="6">-1</tspan>)</text>
</g>
<text x="587.8" y="775.3" font-size="16" font-weight="bold" text-anchor="middle" transform="translate(0 775.3) scale(1 1.07) translate(0 -775.3)">Time (weeks)</text>
</svg>
</body></html>
